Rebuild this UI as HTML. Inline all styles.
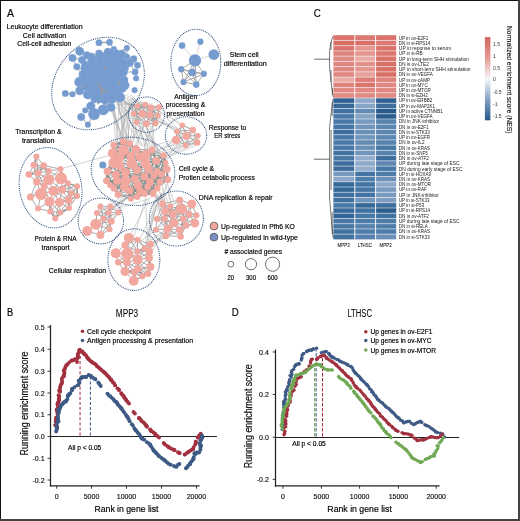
<!DOCTYPE html>
<html><head><meta charset="utf-8"><style>
html,body{margin:0;padding:0;background:#fff;}
body{width:520px;height:521px;overflow:hidden;position:relative;}
svg{position:absolute;left:0;top:0;font-family:"Liberation Sans", sans-serif;-webkit-font-smoothing:antialiased;will-change:transform;}
</style></head><body>
<svg width="520" height="521" viewBox="0 0 520 521">
<rect x="0" y="0" width="520" height="521" fill="#fff"/>
<text x="7.00" y="16.60" font-size="11" text-anchor="start" fill="#000" stroke="#000" stroke-width="0.15" textLength="7.00" lengthAdjust="spacingAndGlyphs" >A</text>
<text x="44.60" y="29.26" font-size="7.6" text-anchor="middle" fill="#000" stroke="#000" stroke-width="0.18" textLength="76.00" lengthAdjust="spacingAndGlyphs" >Leukocyte differentiation</text>
<text x="44.50" y="37.86" font-size="7.6" text-anchor="middle" fill="#000" stroke="#000" stroke-width="0.18" textLength="43.30" lengthAdjust="spacingAndGlyphs" >Cell activation</text>
<text x="44.30" y="46.26" font-size="7.6" text-anchor="middle" fill="#000" stroke="#000" stroke-width="0.18" textLength="54.00" lengthAdjust="spacingAndGlyphs" >Cell-cell adhesion</text>
<text x="244.20" y="57.06" font-size="7.6" text-anchor="middle" fill="#000" stroke="#000" stroke-width="0.18" textLength="29.00" lengthAdjust="spacingAndGlyphs" >Stem cell</text>
<text x="245.20" y="65.66" font-size="7.6" text-anchor="middle" fill="#000" stroke="#000" stroke-width="0.18" textLength="43.00" lengthAdjust="spacingAndGlyphs" >differentiation</text>
<text x="185.70" y="98.86" font-size="7.6" text-anchor="middle" fill="#000" stroke="#000" stroke-width="0.18" textLength="23.00" lengthAdjust="spacingAndGlyphs" >Antigen</text>
<text x="185.50" y="107.36" font-size="7.6" text-anchor="middle" fill="#000" stroke="#000" stroke-width="0.18" textLength="39.50" lengthAdjust="spacingAndGlyphs" >processing &amp;</text>
<text x="185.50" y="116.06" font-size="7.6" text-anchor="middle" fill="#000" stroke="#000" stroke-width="0.18" textLength="38.00" lengthAdjust="spacingAndGlyphs" >presentation</text>
<text x="227.50" y="129.96" font-size="7.6" text-anchor="middle" fill="#000" stroke="#000" stroke-width="0.18" textLength="37.40" lengthAdjust="spacingAndGlyphs" >Response to</text>
<text x="227.30" y="138.46" font-size="7.6" text-anchor="middle" fill="#000" stroke="#000" stroke-width="0.18" textLength="26.00" lengthAdjust="spacingAndGlyphs" >ER stress</text>
<text x="178.70" y="170.86" font-size="7.6" text-anchor="start" fill="#000" stroke="#000" stroke-width="0.18" textLength="35.40" lengthAdjust="spacingAndGlyphs" >Cell cycle &amp;</text>
<text x="178.80" y="179.66" font-size="7.6" text-anchor="start" fill="#000" stroke="#000" stroke-width="0.18" textLength="76.00" lengthAdjust="spacingAndGlyphs" >Protien cetabolic process</text>
<text x="198.80" y="199.96" font-size="7.6" text-anchor="start" fill="#000" stroke="#000" stroke-width="0.18" textLength="73.80" lengthAdjust="spacingAndGlyphs" >DNA replication &amp; repair</text>
<text x="38.50" y="134.16" font-size="7.6" text-anchor="middle" fill="#000" stroke="#000" stroke-width="0.18" textLength="46.30" lengthAdjust="spacingAndGlyphs" >Transcription &amp;</text>
<text x="38.20" y="143.36" font-size="7.6" text-anchor="middle" fill="#000" stroke="#000" stroke-width="0.18" textLength="32.60" lengthAdjust="spacingAndGlyphs" >translation</text>
<text x="55.60" y="241.16" font-size="7.6" text-anchor="middle" fill="#000" stroke="#000" stroke-width="0.18" textLength="42.00" lengthAdjust="spacingAndGlyphs" >Protein &amp; RNA</text>
<text x="55.60" y="249.86" font-size="7.6" text-anchor="middle" fill="#000" stroke="#000" stroke-width="0.18" textLength="28.20" lengthAdjust="spacingAndGlyphs" >transport</text>
<text x="77.50" y="273.46" font-size="7.6" text-anchor="middle" fill="#000" stroke="#000" stroke-width="0.18" textLength="57.30" lengthAdjust="spacingAndGlyphs" >Cellular respiration</text>
<circle cx="214" cy="226.1" r="3.9" fill="#f2a79f" stroke="#555" stroke-width="0.8"/>
<circle cx="214" cy="237.1" r="3.9" fill="#7a8fc4" stroke="#555" stroke-width="0.8"/>
<text x="221.00" y="228.76" font-size="7.6" text-anchor="start" fill="#000" stroke="#000" stroke-width="0.18" textLength="73.80" lengthAdjust="spacingAndGlyphs" >Up-regulated in Pfh6 KO</text>
<text x="221.00" y="239.76" font-size="7.6" text-anchor="start" fill="#000" stroke="#000" stroke-width="0.18" textLength="77.00" lengthAdjust="spacingAndGlyphs" >Up-regulated in wild-type</text>
<text x="253.20" y="254.16" font-size="7.6" text-anchor="middle" fill="#000" stroke="#000" stroke-width="0.18" textLength="57.60" lengthAdjust="spacingAndGlyphs" ># associated genes</text>
<circle cx="230.8" cy="264.2" r="2.9" fill="none" stroke="#333" stroke-width="0.7"/>
<text x="230.80" y="280.16" font-size="7.6" text-anchor="middle" fill="#000" stroke="#000" stroke-width="0.18" textLength="6.50" lengthAdjust="spacingAndGlyphs" >20</text>
<circle cx="251.0" cy="264.2" r="5.6" fill="none" stroke="#333" stroke-width="0.7"/>
<text x="251.00" y="280.16" font-size="7.6" text-anchor="middle" fill="#000" stroke="#000" stroke-width="0.18" textLength="10.00" lengthAdjust="spacingAndGlyphs" >300</text>
<circle cx="272.6" cy="264.2" r="7.1" fill="none" stroke="#333" stroke-width="0.7"/>
<text x="272.60" y="280.16" font-size="7.6" text-anchor="middle" fill="#000" stroke="#000" stroke-width="0.18" textLength="10.00" lengthAdjust="spacingAndGlyphs" >600</text>
<g id="edges" stroke-linecap="round">
<line x1="124.0" y1="101.0" x2="158.0" y2="113.2" stroke="#a8a8a8" stroke-width="0.5"/>
<line x1="125.2" y1="101.4" x2="138.0" y2="114.3" stroke="#a8a8a8" stroke-width="0.5"/>
<line x1="127.6" y1="104.7" x2="135.5" y2="109.7" stroke="#a8a8a8" stroke-width="0.5"/>
<line x1="116.8" y1="105.0" x2="151.7" y2="103.9" stroke="#a8a8a8" stroke-width="0.5"/>
<line x1="134.6" y1="107.4" x2="150.7" y2="116.5" stroke="#a8a8a8" stroke-width="0.5"/>
<line x1="118.1" y1="92.2" x2="147.3" y2="104.3" stroke="#a8a8a8" stroke-width="0.5"/>
<line x1="118.8" y1="95.9" x2="133.8" y2="113.2" stroke="#a8a8a8" stroke-width="0.5"/>
<line x1="123.8" y1="105.5" x2="147.0" y2="117.1" stroke="#a8a8a8" stroke-width="0.5"/>
<line x1="125.0" y1="102.6" x2="145.3" y2="109.1" stroke="#a8a8a8" stroke-width="0.5"/>
<line x1="135.0" y1="107.9" x2="155.7" y2="118.6" stroke="#a8a8a8" stroke-width="0.5"/>
<line x1="121.3" y1="95.7" x2="140.8" y2="104.5" stroke="#a8a8a8" stroke-width="0.5"/>
<line x1="130.3" y1="98.4" x2="155.9" y2="111.5" stroke="#a8a8a8" stroke-width="0.5"/>
<line x1="134.2" y1="105.6" x2="133.0" y2="107.6" stroke="#a8a8a8" stroke-width="0.5"/>
<line x1="133.2" y1="99.5" x2="159.5" y2="111.7" stroke="#a8a8a8" stroke-width="0.5"/>
<line x1="116.5" y1="102.1" x2="154.0" y2="108.9" stroke="#a8a8a8" stroke-width="0.5"/>
<line x1="116.7" y1="97.3" x2="159.0" y2="119.7" stroke="#a8a8a8" stroke-width="0.5"/>
<line x1="117.4" y1="95.9" x2="135.7" y2="104.3" stroke="#a8a8a8" stroke-width="0.5"/>
<line x1="130.9" y1="94.8" x2="148.1" y2="112.8" stroke="#a8a8a8" stroke-width="0.5"/>
<line x1="118.8" y1="103.7" x2="136.5" y2="117.2" stroke="#a8a8a8" stroke-width="0.5"/>
<line x1="117.3" y1="98.7" x2="138.7" y2="108.9" stroke="#a8a8a8" stroke-width="0.5"/>
<line x1="134.3" y1="107.1" x2="128.7" y2="157.7" stroke="#a8a8a8" stroke-width="0.5"/>
<line x1="115.3" y1="100.9" x2="153.4" y2="152.8" stroke="#a8a8a8" stroke-width="0.5"/>
<line x1="112.5" y1="109.8" x2="124.6" y2="145.2" stroke="#a8a8a8" stroke-width="0.5"/>
<line x1="129.3" y1="99.9" x2="128.3" y2="141.5" stroke="#a8a8a8" stroke-width="0.5"/>
<line x1="112.3" y1="103.7" x2="125.9" y2="152.0" stroke="#a8a8a8" stroke-width="0.5"/>
<line x1="119.3" y1="101.8" x2="158.2" y2="149.7" stroke="#a8a8a8" stroke-width="0.5"/>
<line x1="124.4" y1="108.0" x2="123.2" y2="143.1" stroke="#a8a8a8" stroke-width="0.5"/>
<line x1="132.7" y1="107.3" x2="126.2" y2="143.8" stroke="#a8a8a8" stroke-width="0.5"/>
<line x1="128.5" y1="109.1" x2="123.8" y2="159.0" stroke="#a8a8a8" stroke-width="0.5"/>
<line x1="132.1" y1="104.1" x2="134.0" y2="142.1" stroke="#a8a8a8" stroke-width="0.5"/>
<line x1="111.0" y1="109.4" x2="125.7" y2="154.1" stroke="#a8a8a8" stroke-width="0.5"/>
<line x1="116.4" y1="107.4" x2="141.8" y2="145.9" stroke="#a8a8a8" stroke-width="0.5"/>
<line x1="114.4" y1="105.8" x2="118.1" y2="144.6" stroke="#a8a8a8" stroke-width="0.5"/>
<line x1="124.0" y1="107.8" x2="142.6" y2="145.6" stroke="#a8a8a8" stroke-width="0.5"/>
<line x1="132.9" y1="98.1" x2="115.7" y2="145.4" stroke="#a8a8a8" stroke-width="0.5"/>
<line x1="121.1" y1="95.9" x2="122.9" y2="147.4" stroke="#a8a8a8" stroke-width="0.5"/>
<line x1="124.3" y1="97.0" x2="131.3" y2="157.8" stroke="#a8a8a8" stroke-width="0.5"/>
<line x1="134.5" y1="104.9" x2="146.1" y2="151.7" stroke="#a8a8a8" stroke-width="0.5"/>
<line x1="113.5" y1="95.5" x2="115.8" y2="158.2" stroke="#a8a8a8" stroke-width="0.5"/>
<line x1="127.5" y1="109.4" x2="116.0" y2="152.7" stroke="#a8a8a8" stroke-width="0.5"/>
<line x1="146.0" y1="121.0" x2="130.9" y2="160.0" stroke="#a8a8a8" stroke-width="0.5"/>
<line x1="135.0" y1="118.2" x2="151.9" y2="158.0" stroke="#a8a8a8" stroke-width="0.5"/>
<line x1="152.9" y1="120.6" x2="154.7" y2="158.3" stroke="#a8a8a8" stroke-width="0.5"/>
<line x1="142.5" y1="120.3" x2="160.0" y2="157.4" stroke="#a8a8a8" stroke-width="0.5"/>
<line x1="144.3" y1="121.9" x2="158.2" y2="151.5" stroke="#a8a8a8" stroke-width="0.5"/>
<line x1="149.9" y1="115.7" x2="144.1" y2="152.2" stroke="#a8a8a8" stroke-width="0.5"/>
<line x1="135.2" y1="119.6" x2="164.7" y2="157.6" stroke="#a8a8a8" stroke-width="0.5"/>
<line x1="152.7" y1="115.8" x2="151.8" y2="151.6" stroke="#a8a8a8" stroke-width="0.5"/>
<line x1="144.9" y1="122.6" x2="119.2" y2="155.0" stroke="#a8a8a8" stroke-width="0.5"/>
<line x1="133.8" y1="119.0" x2="139.0" y2="144.6" stroke="#a8a8a8" stroke-width="0.5"/>
<line x1="151.9" y1="117.5" x2="145.7" y2="158.4" stroke="#a8a8a8" stroke-width="0.5"/>
<line x1="139.9" y1="110.2" x2="130.1" y2="153.6" stroke="#a8a8a8" stroke-width="0.5"/>
<line x1="138.5" y1="112.5" x2="160.3" y2="153.2" stroke="#a8a8a8" stroke-width="0.5"/>
<line x1="144.9" y1="123.4" x2="131.3" y2="153.3" stroke="#a8a8a8" stroke-width="0.5"/>
<line x1="138.4" y1="116.5" x2="155.3" y2="158.3" stroke="#a8a8a8" stroke-width="0.5"/>
<line x1="156.8" y1="115.8" x2="144.2" y2="146.3" stroke="#a8a8a8" stroke-width="0.5"/>
<line x1="142.7" y1="112.4" x2="194.4" y2="139.9" stroke="#a8a8a8" stroke-width="0.5"/>
<line x1="154.2" y1="119.3" x2="182.1" y2="130.4" stroke="#a8a8a8" stroke-width="0.5"/>
<line x1="149.0" y1="109.1" x2="180.7" y2="133.8" stroke="#a8a8a8" stroke-width="0.5"/>
<line x1="152.5" y1="112.4" x2="182.9" y2="139.7" stroke="#a8a8a8" stroke-width="0.5"/>
<line x1="159.6" y1="111.8" x2="177.6" y2="128.4" stroke="#a8a8a8" stroke-width="0.5"/>
<line x1="157.5" y1="105.6" x2="191.6" y2="136.0" stroke="#a8a8a8" stroke-width="0.5"/>
<line x1="146.2" y1="116.9" x2="176.4" y2="129.9" stroke="#a8a8a8" stroke-width="0.5"/>
<line x1="149.1" y1="105.4" x2="194.3" y2="131.3" stroke="#a8a8a8" stroke-width="0.5"/>
<line x1="152.8" y1="145.9" x2="189.5" y2="135.6" stroke="#a8a8a8" stroke-width="0.5"/>
<line x1="162.6" y1="158.1" x2="193.6" y2="144.3" stroke="#a8a8a8" stroke-width="0.5"/>
<line x1="163.7" y1="149.0" x2="185.9" y2="131.0" stroke="#a8a8a8" stroke-width="0.5"/>
<line x1="150.2" y1="154.4" x2="191.4" y2="131.0" stroke="#a8a8a8" stroke-width="0.5"/>
<line x1="155.4" y1="151.9" x2="191.0" y2="136.8" stroke="#a8a8a8" stroke-width="0.5"/>
<line x1="162.3" y1="160.1" x2="184.1" y2="141.5" stroke="#a8a8a8" stroke-width="0.5"/>
<line x1="168.1" y1="146.7" x2="196.4" y2="140.3" stroke="#a8a8a8" stroke-width="0.5"/>
<line x1="152.6" y1="154.1" x2="189.4" y2="143.5" stroke="#a8a8a8" stroke-width="0.5"/>
<line x1="157.5" y1="156.4" x2="195.2" y2="141.5" stroke="#a8a8a8" stroke-width="0.5"/>
<line x1="168.9" y1="154.3" x2="190.0" y2="131.5" stroke="#a8a8a8" stroke-width="0.5"/>
<line x1="164.4" y1="161.4" x2="189.8" y2="140.2" stroke="#a8a8a8" stroke-width="0.5"/>
<line x1="154.3" y1="163.0" x2="197.6" y2="144.6" stroke="#a8a8a8" stroke-width="0.5"/>
<line x1="160.7" y1="194.8" x2="162.1" y2="222.7" stroke="#a8a8a8" stroke-width="0.5"/>
<line x1="167.1" y1="183.7" x2="157.6" y2="211.0" stroke="#a8a8a8" stroke-width="0.5"/>
<line x1="161.0" y1="194.2" x2="165.3" y2="200.7" stroke="#a8a8a8" stroke-width="0.5"/>
<line x1="166.2" y1="176.6" x2="171.2" y2="204.3" stroke="#a8a8a8" stroke-width="0.5"/>
<line x1="156.7" y1="194.7" x2="158.7" y2="203.7" stroke="#a8a8a8" stroke-width="0.5"/>
<line x1="160.3" y1="193.1" x2="172.0" y2="217.2" stroke="#a8a8a8" stroke-width="0.5"/>
<line x1="168.9" y1="187.3" x2="174.0" y2="202.2" stroke="#a8a8a8" stroke-width="0.5"/>
<line x1="154.4" y1="188.2" x2="161.5" y2="218.2" stroke="#a8a8a8" stroke-width="0.5"/>
<line x1="162.8" y1="188.1" x2="172.0" y2="214.0" stroke="#a8a8a8" stroke-width="0.5"/>
<line x1="156.2" y1="184.5" x2="172.1" y2="222.5" stroke="#a8a8a8" stroke-width="0.5"/>
<line x1="154.2" y1="196.3" x2="174.4" y2="213.1" stroke="#a8a8a8" stroke-width="0.5"/>
<line x1="161.5" y1="180.0" x2="166.2" y2="212.6" stroke="#a8a8a8" stroke-width="0.5"/>
<line x1="162.1" y1="175.7" x2="174.4" y2="212.9" stroke="#a8a8a8" stroke-width="0.5"/>
<line x1="158.0" y1="195.0" x2="166.7" y2="212.3" stroke="#a8a8a8" stroke-width="0.5"/>
<line x1="142.3" y1="186.0" x2="109.7" y2="211.2" stroke="#a8a8a8" stroke-width="0.5"/>
<line x1="148.9" y1="198.9" x2="104.8" y2="212.1" stroke="#a8a8a8" stroke-width="0.5"/>
<line x1="128.2" y1="191.5" x2="114.7" y2="218.5" stroke="#a8a8a8" stroke-width="0.5"/>
<line x1="136.9" y1="189.8" x2="103.4" y2="214.3" stroke="#a8a8a8" stroke-width="0.5"/>
<line x1="148.1" y1="186.9" x2="114.0" y2="205.3" stroke="#a8a8a8" stroke-width="0.5"/>
<line x1="129.9" y1="188.4" x2="112.4" y2="209.8" stroke="#a8a8a8" stroke-width="0.5"/>
<line x1="133.9" y1="194.3" x2="101.9" y2="216.0" stroke="#a8a8a8" stroke-width="0.5"/>
<line x1="128.1" y1="192.7" x2="104.5" y2="208.0" stroke="#a8a8a8" stroke-width="0.5"/>
<line x1="138.3" y1="191.6" x2="106.8" y2="211.2" stroke="#a8a8a8" stroke-width="0.5"/>
<line x1="138.2" y1="187.4" x2="103.7" y2="214.5" stroke="#a8a8a8" stroke-width="0.5"/>
<line x1="156.0" y1="195.3" x2="146.7" y2="244.6" stroke="#a8a8a8" stroke-width="0.5"/>
<line x1="161.4" y1="192.3" x2="144.3" y2="247.3" stroke="#a8a8a8" stroke-width="0.5"/>
<line x1="162.6" y1="193.2" x2="134.9" y2="248.9" stroke="#a8a8a8" stroke-width="0.5"/>
<line x1="145.5" y1="200.0" x2="147.5" y2="237.9" stroke="#a8a8a8" stroke-width="0.5"/>
<line x1="146.0" y1="197.3" x2="133.7" y2="237.4" stroke="#a8a8a8" stroke-width="0.5"/>
<line x1="160.8" y1="194.2" x2="145.4" y2="237.8" stroke="#a8a8a8" stroke-width="0.5"/>
<line x1="150.1" y1="196.9" x2="128.4" y2="238.8" stroke="#a8a8a8" stroke-width="0.5"/>
<line x1="157.1" y1="199.1" x2="149.3" y2="237.6" stroke="#a8a8a8" stroke-width="0.5"/>
<line x1="172.6" y1="231.4" x2="146.0" y2="250.3" stroke="#a8a8a8" stroke-width="0.5"/>
<line x1="167.8" y1="221.1" x2="141.3" y2="240.6" stroke="#a8a8a8" stroke-width="0.5"/>
<line x1="173.3" y1="227.7" x2="146.8" y2="242.2" stroke="#a8a8a8" stroke-width="0.5"/>
<line x1="167.8" y1="223.1" x2="150.1" y2="254.9" stroke="#a8a8a8" stroke-width="0.5"/>
<line x1="178.9" y1="221.4" x2="140.7" y2="254.3" stroke="#a8a8a8" stroke-width="0.5"/>
<line x1="171.9" y1="231.5" x2="143.9" y2="247.0" stroke="#a8a8a8" stroke-width="0.5"/>
<line x1="172.7" y1="226.5" x2="147.2" y2="240.2" stroke="#a8a8a8" stroke-width="0.5"/>
<line x1="175.5" y1="232.7" x2="142.2" y2="246.8" stroke="#a8a8a8" stroke-width="0.5"/>
<line x1="60.5" y1="169" x2="108" y2="155.7" stroke="#b0b0b0" stroke-width="0.6"/>
<line x1="119.8" y1="99.1" x2="116.3" y2="141.7" stroke="#a8a8a8" stroke-width="0.5"/>
<line x1="115.3" y1="95.2" x2="128.2" y2="148.0" stroke="#a8a8a8" stroke-width="0.5"/>
<line x1="119.1" y1="103.6" x2="123.7" y2="144.0" stroke="#a8a8a8" stroke-width="0.5"/>
<line x1="117.0" y1="100.0" x2="129.7" y2="148.0" stroke="#a8a8a8" stroke-width="0.5"/>
<line x1="110.2" y1="104.1" x2="125.7" y2="147.8" stroke="#a8a8a8" stroke-width="0.5"/>
<line x1="121.3" y1="99.1" x2="128.2" y2="148.8" stroke="#a8a8a8" stroke-width="0.5"/>
<line x1="99" y1="42.7" x2="109.5" y2="42.2" stroke="#a09890" stroke-width="1"/>
</g>
<g stroke="#8f8f8f" stroke-width="0.75">
<line x1="137.5" y1="106.0" x2="145.2" y2="104.6"/>
<line x1="137.5" y1="106.0" x2="151.0" y2="107.9"/>
<line x1="137.5" y1="106.0" x2="133.7" y2="113.7"/>
<line x1="137.5" y1="106.0" x2="142.3" y2="113.7"/>
<line x1="137.5" y1="106.0" x2="150.0" y2="115.0"/>
<line x1="137.5" y1="106.0" x2="136.5" y2="122.3"/>
<line x1="145.2" y1="104.6" x2="151.0" y2="107.9"/>
<line x1="145.2" y1="104.6" x2="159.2" y2="107.3"/>
<line x1="145.2" y1="104.6" x2="133.7" y2="113.7"/>
<line x1="145.2" y1="104.6" x2="142.3" y2="113.7"/>
<line x1="145.2" y1="104.6" x2="150.0" y2="115.0"/>
<line x1="145.2" y1="104.6" x2="158.0" y2="115.6"/>
<line x1="151.0" y1="107.9" x2="159.2" y2="107.3"/>
<line x1="151.0" y1="107.9" x2="142.3" y2="113.7"/>
<line x1="151.0" y1="107.9" x2="150.0" y2="115.0"/>
<line x1="151.0" y1="107.9" x2="158.0" y2="115.6"/>
<line x1="151.0" y1="107.9" x2="146.2" y2="123.8"/>
<line x1="151.0" y1="107.9" x2="155.4" y2="123.3"/>
<line x1="159.2" y1="107.3" x2="150.0" y2="115.0"/>
<line x1="159.2" y1="107.3" x2="158.0" y2="115.6"/>
<line x1="159.2" y1="107.3" x2="155.4" y2="123.3"/>
<line x1="133.7" y1="113.7" x2="142.3" y2="113.7"/>
<line x1="133.7" y1="113.7" x2="150.0" y2="115.0"/>
<line x1="133.7" y1="113.7" x2="136.5" y2="122.3"/>
<line x1="133.7" y1="113.7" x2="146.2" y2="123.8"/>
<line x1="142.3" y1="113.7" x2="150.0" y2="115.0"/>
<line x1="142.3" y1="113.7" x2="158.0" y2="115.6"/>
<line x1="142.3" y1="113.7" x2="136.5" y2="122.3"/>
<line x1="142.3" y1="113.7" x2="146.2" y2="123.8"/>
<line x1="142.3" y1="113.7" x2="155.4" y2="123.3"/>
<line x1="150.0" y1="115.0" x2="158.0" y2="115.6"/>
<line x1="150.0" y1="115.0" x2="136.5" y2="122.3"/>
<line x1="150.0" y1="115.0" x2="146.2" y2="123.8"/>
<line x1="150.0" y1="115.0" x2="155.4" y2="123.3"/>
<line x1="158.0" y1="115.6" x2="146.2" y2="123.8"/>
<line x1="158.0" y1="115.6" x2="155.4" y2="123.3"/>
<line x1="136.5" y1="122.3" x2="146.2" y2="123.8"/>
<line x1="146.2" y1="123.8" x2="155.4" y2="123.3"/>
</g>
<g stroke="#8f8f8f" stroke-width="0.75">
<line x1="182.3" y1="125.2" x2="176.9" y2="131.5"/>
<line x1="182.3" y1="125.2" x2="192.7" y2="130.0"/>
<line x1="182.3" y1="125.2" x2="186.5" y2="135.8"/>
<line x1="182.3" y1="125.2" x2="176.0" y2="140.0"/>
<line x1="176.9" y1="131.5" x2="192.7" y2="130.0"/>
<line x1="176.9" y1="131.5" x2="186.5" y2="135.8"/>
<line x1="176.9" y1="131.5" x2="176.0" y2="140.0"/>
<line x1="176.9" y1="131.5" x2="185.6" y2="145.4"/>
<line x1="192.7" y1="130.0" x2="186.5" y2="135.8"/>
<line x1="192.7" y1="130.0" x2="185.6" y2="145.4"/>
<line x1="192.7" y1="130.0" x2="197.0" y2="142.5"/>
<line x1="192.7" y1="130.0" x2="198.0" y2="135.8"/>
<line x1="186.5" y1="135.8" x2="176.0" y2="140.0"/>
<line x1="186.5" y1="135.8" x2="185.6" y2="145.4"/>
<line x1="186.5" y1="135.8" x2="197.0" y2="142.5"/>
<line x1="186.5" y1="135.8" x2="198.0" y2="135.8"/>
<line x1="176.0" y1="140.0" x2="185.6" y2="145.4"/>
<line x1="185.6" y1="145.4" x2="197.0" y2="142.5"/>
<line x1="185.6" y1="145.4" x2="198.0" y2="135.8"/>
<line x1="197.0" y1="142.5" x2="198.0" y2="135.8"/>
</g>
<g stroke="#8d9797" stroke-width="2.2" stroke-linecap="round">
<line x1="113.8" y1="145.2" x2="123.4" y2="141.6"/>
<line x1="113.8" y1="145.2" x2="112.8" y2="153.3"/>
<line x1="113.8" y1="145.2" x2="123.4" y2="150.1"/>
<line x1="123.4" y1="141.6" x2="129.7" y2="143.8"/>
<line x1="123.4" y1="141.6" x2="123.4" y2="150.1"/>
<line x1="129.7" y1="143.8" x2="123.4" y2="150.1"/>
<line x1="129.7" y1="143.8" x2="136.0" y2="149.5"/>
<line x1="112.8" y1="153.3" x2="123.4" y2="150.1"/>
<line x1="112.8" y1="153.3" x2="113.8" y2="162.8"/>
<line x1="112.8" y1="153.3" x2="120.0" y2="158.0"/>
<line x1="123.4" y1="150.1" x2="130.8" y2="156.4"/>
<line x1="123.4" y1="150.1" x2="120.0" y2="158.0"/>
<line x1="136.0" y1="149.5" x2="145.6" y2="155.0"/>
<line x1="136.0" y1="149.5" x2="130.8" y2="156.4"/>
<line x1="136.0" y1="149.5" x2="140.0" y2="157.0"/>
<line x1="145.6" y1="155.0" x2="145.6" y2="163.8"/>
<line x1="145.6" y1="155.0" x2="140.0" y2="157.0"/>
<line x1="145.6" y1="155.0" x2="152.0" y2="150.0"/>
<line x1="163.6" y1="155.4" x2="156.2" y2="160.7"/>
<line x1="163.6" y1="155.4" x2="165.7" y2="162.8"/>
<line x1="130.8" y1="156.4" x2="131.8" y2="163.8"/>
<line x1="130.8" y1="156.4" x2="120.0" y2="158.0"/>
<line x1="130.8" y1="156.4" x2="140.0" y2="157.0"/>
<line x1="113.8" y1="162.8" x2="107.5" y2="171.3"/>
<line x1="113.8" y1="162.8" x2="120.0" y2="158.0"/>
<line x1="113.8" y1="162.8" x2="120.0" y2="166.0"/>
<line x1="131.8" y1="163.8" x2="125.5" y2="172.3"/>
<line x1="131.8" y1="163.8" x2="137.1" y2="170.2"/>
<line x1="131.8" y1="163.8" x2="140.0" y2="157.0"/>
<line x1="145.6" y1="163.8" x2="156.2" y2="160.7"/>
<line x1="145.6" y1="163.8" x2="137.1" y2="170.2"/>
<line x1="145.6" y1="163.8" x2="148.8" y2="169.1"/>
<line x1="145.6" y1="163.8" x2="140.0" y2="157.0"/>
<line x1="156.2" y1="160.7" x2="165.7" y2="162.8"/>
<line x1="156.2" y1="160.7" x2="148.8" y2="169.1"/>
<line x1="156.2" y1="160.7" x2="157.2" y2="171.3"/>
<line x1="156.2" y1="160.7" x2="152.0" y2="150.0"/>
<line x1="165.7" y1="162.8" x2="166.7" y2="169.1"/>
<line x1="107.5" y1="171.3" x2="116.0" y2="174.4"/>
<line x1="107.5" y1="171.3" x2="106.4" y2="180.8"/>
<line x1="116.0" y1="174.4" x2="125.5" y2="172.3"/>
<line x1="116.0" y1="174.4" x2="117.0" y2="180.8"/>
<line x1="116.0" y1="174.4" x2="125.5" y2="180.8"/>
<line x1="116.0" y1="174.4" x2="120.0" y2="166.0"/>
<line x1="125.5" y1="172.3" x2="125.5" y2="180.8"/>
<line x1="125.5" y1="172.3" x2="135.0" y2="178.7"/>
<line x1="125.5" y1="172.3" x2="120.0" y2="166.0"/>
<line x1="137.1" y1="170.2" x2="135.0" y2="178.7"/>
<line x1="137.1" y1="170.2" x2="144.5" y2="176.5"/>
<line x1="148.8" y1="169.1" x2="157.2" y2="171.3"/>
<line x1="148.8" y1="169.1" x2="144.5" y2="176.5"/>
<line x1="148.8" y1="169.1" x2="154.0" y2="175.5"/>
<line x1="157.2" y1="171.3" x2="166.7" y2="169.1"/>
<line x1="157.2" y1="171.3" x2="154.0" y2="175.5"/>
<line x1="157.2" y1="171.3" x2="161.4" y2="174.4"/>
<line x1="157.2" y1="171.3" x2="160.0" y2="182.0"/>
<line x1="166.7" y1="169.1" x2="161.4" y2="174.4"/>
<line x1="166.7" y1="169.1" x2="167.8" y2="179.7"/>
<line x1="106.4" y1="180.8" x2="117.0" y2="180.8"/>
<line x1="106.4" y1="180.8" x2="113.8" y2="188.2"/>
<line x1="106.4" y1="180.8" x2="110.0" y2="185.0"/>
<line x1="117.0" y1="180.8" x2="125.5" y2="180.8"/>
<line x1="117.0" y1="180.8" x2="113.8" y2="188.2"/>
<line x1="117.0" y1="180.8" x2="124.4" y2="187.1"/>
<line x1="117.0" y1="180.8" x2="110.0" y2="185.0"/>
<line x1="125.5" y1="180.8" x2="135.0" y2="178.7"/>
<line x1="125.5" y1="180.8" x2="124.4" y2="187.1"/>
<line x1="125.5" y1="180.8" x2="129.7" y2="190.3"/>
<line x1="135.0" y1="178.7" x2="144.5" y2="176.5"/>
<line x1="135.0" y1="178.7" x2="138.0" y2="185.0"/>
<line x1="144.5" y1="176.5" x2="154.0" y2="175.5"/>
<line x1="144.5" y1="176.5" x2="147.7" y2="187.1"/>
<line x1="144.5" y1="176.5" x2="138.0" y2="185.0"/>
<line x1="144.5" y1="176.5" x2="150.0" y2="182.0"/>
<line x1="154.0" y1="175.5" x2="161.4" y2="174.4"/>
<line x1="154.0" y1="175.5" x2="160.0" y2="182.0"/>
<line x1="154.0" y1="175.5" x2="150.0" y2="182.0"/>
<line x1="161.4" y1="174.4" x2="167.8" y2="179.7"/>
<line x1="161.4" y1="174.4" x2="160.0" y2="182.0"/>
<line x1="167.8" y1="179.7" x2="160.0" y2="182.0"/>
<line x1="113.8" y1="188.2" x2="124.4" y2="187.1"/>
<line x1="113.8" y1="188.2" x2="118.1" y2="194.5"/>
<line x1="113.8" y1="188.2" x2="110.0" y2="185.0"/>
<line x1="124.4" y1="187.1" x2="129.7" y2="190.3"/>
<line x1="124.4" y1="187.1" x2="118.1" y2="194.5"/>
<line x1="129.7" y1="190.3" x2="140.3" y2="191.3"/>
<line x1="129.7" y1="190.3" x2="130.8" y2="198.8"/>
<line x1="129.7" y1="190.3" x2="137.1" y2="196.6"/>
<line x1="129.7" y1="190.3" x2="138.0" y2="185.0"/>
<line x1="140.3" y1="191.3" x2="147.7" y2="187.1"/>
<line x1="140.3" y1="191.3" x2="137.1" y2="196.6"/>
<line x1="140.3" y1="191.3" x2="144.5" y2="193.5"/>
<line x1="140.3" y1="191.3" x2="138.0" y2="185.0"/>
<line x1="147.7" y1="187.1" x2="157.2" y2="188.2"/>
<line x1="147.7" y1="187.1" x2="144.5" y2="193.5"/>
<line x1="147.7" y1="187.1" x2="153.0" y2="193.5"/>
<line x1="147.7" y1="187.1" x2="138.0" y2="185.0"/>
<line x1="147.7" y1="187.1" x2="150.0" y2="182.0"/>
<line x1="157.2" y1="188.2" x2="153.0" y2="193.5"/>
<line x1="157.2" y1="188.2" x2="160.0" y2="182.0"/>
<line x1="157.2" y1="188.2" x2="150.0" y2="182.0"/>
<line x1="130.8" y1="198.8" x2="137.1" y2="196.6"/>
<line x1="137.1" y1="196.6" x2="144.5" y2="193.5"/>
<line x1="144.5" y1="193.5" x2="153.0" y2="193.5"/>
<line x1="144.5" y1="193.5" x2="138.0" y2="185.0"/>
<line x1="120.0" y1="158.0" x2="120.0" y2="166.0"/>
<line x1="160.0" y1="182.0" x2="150.0" y2="182.0"/>
</g>
<g stroke="#8a9393" stroke-width="0.9">
<line x1="113.8" y1="145.2" x2="123.4" y2="141.6"/>
<line x1="113.8" y1="145.2" x2="129.7" y2="143.8"/>
<line x1="113.8" y1="145.2" x2="112.8" y2="153.3"/>
<line x1="113.8" y1="145.2" x2="123.4" y2="150.1"/>
<line x1="113.8" y1="145.2" x2="113.8" y2="162.8"/>
<line x1="113.8" y1="145.2" x2="120.0" y2="158.0"/>
<line x1="123.4" y1="141.6" x2="129.7" y2="143.8"/>
<line x1="123.4" y1="141.6" x2="112.8" y2="153.3"/>
<line x1="123.4" y1="141.6" x2="123.4" y2="150.1"/>
<line x1="123.4" y1="141.6" x2="136.0" y2="149.5"/>
<line x1="123.4" y1="141.6" x2="130.8" y2="156.4"/>
<line x1="123.4" y1="141.6" x2="120.0" y2="158.0"/>
<line x1="129.7" y1="143.8" x2="112.8" y2="153.3"/>
<line x1="129.7" y1="143.8" x2="123.4" y2="150.1"/>
<line x1="129.7" y1="143.8" x2="136.0" y2="149.5"/>
<line x1="129.7" y1="143.8" x2="145.6" y2="155.0"/>
<line x1="129.7" y1="143.8" x2="130.8" y2="156.4"/>
<line x1="129.7" y1="143.8" x2="120.0" y2="158.0"/>
<line x1="129.7" y1="143.8" x2="140.0" y2="157.0"/>
<line x1="112.8" y1="153.3" x2="123.4" y2="150.1"/>
<line x1="112.8" y1="153.3" x2="130.8" y2="156.4"/>
<line x1="112.8" y1="153.3" x2="113.8" y2="162.8"/>
<line x1="112.8" y1="153.3" x2="107.5" y2="171.3"/>
<line x1="112.8" y1="153.3" x2="120.0" y2="158.0"/>
<line x1="112.8" y1="153.3" x2="120.0" y2="166.0"/>
<line x1="123.4" y1="150.1" x2="136.0" y2="149.5"/>
<line x1="123.4" y1="150.1" x2="130.8" y2="156.4"/>
<line x1="123.4" y1="150.1" x2="113.8" y2="162.8"/>
<line x1="123.4" y1="150.1" x2="131.8" y2="163.8"/>
<line x1="123.4" y1="150.1" x2="120.0" y2="158.0"/>
<line x1="123.4" y1="150.1" x2="140.0" y2="157.0"/>
<line x1="123.4" y1="150.1" x2="120.0" y2="166.0"/>
<line x1="136.0" y1="149.5" x2="145.6" y2="155.0"/>
<line x1="136.0" y1="149.5" x2="130.8" y2="156.4"/>
<line x1="136.0" y1="149.5" x2="131.8" y2="163.8"/>
<line x1="136.0" y1="149.5" x2="145.6" y2="163.8"/>
<line x1="136.0" y1="149.5" x2="120.0" y2="158.0"/>
<line x1="136.0" y1="149.5" x2="140.0" y2="157.0"/>
<line x1="136.0" y1="149.5" x2="152.0" y2="150.0"/>
<line x1="145.6" y1="155.0" x2="163.6" y2="155.4"/>
<line x1="145.6" y1="155.0" x2="130.8" y2="156.4"/>
<line x1="145.6" y1="155.0" x2="131.8" y2="163.8"/>
<line x1="145.6" y1="155.0" x2="145.6" y2="163.8"/>
<line x1="145.6" y1="155.0" x2="156.2" y2="160.7"/>
<line x1="145.6" y1="155.0" x2="137.1" y2="170.2"/>
<line x1="145.6" y1="155.0" x2="148.8" y2="169.1"/>
<line x1="145.6" y1="155.0" x2="140.0" y2="157.0"/>
<line x1="145.6" y1="155.0" x2="152.0" y2="150.0"/>
<line x1="163.6" y1="155.4" x2="145.6" y2="163.8"/>
<line x1="163.6" y1="155.4" x2="156.2" y2="160.7"/>
<line x1="163.6" y1="155.4" x2="165.7" y2="162.8"/>
<line x1="163.6" y1="155.4" x2="157.2" y2="171.3"/>
<line x1="163.6" y1="155.4" x2="166.7" y2="169.1"/>
<line x1="163.6" y1="155.4" x2="161.4" y2="174.4"/>
<line x1="163.6" y1="155.4" x2="152.0" y2="150.0"/>
<line x1="130.8" y1="156.4" x2="113.8" y2="162.8"/>
<line x1="130.8" y1="156.4" x2="131.8" y2="163.8"/>
<line x1="130.8" y1="156.4" x2="145.6" y2="163.8"/>
<line x1="130.8" y1="156.4" x2="125.5" y2="172.3"/>
<line x1="130.8" y1="156.4" x2="137.1" y2="170.2"/>
<line x1="130.8" y1="156.4" x2="120.0" y2="158.0"/>
<line x1="130.8" y1="156.4" x2="140.0" y2="157.0"/>
<line x1="130.8" y1="156.4" x2="120.0" y2="166.0"/>
<line x1="113.8" y1="162.8" x2="131.8" y2="163.8"/>
<line x1="113.8" y1="162.8" x2="107.5" y2="171.3"/>
<line x1="113.8" y1="162.8" x2="116.0" y2="174.4"/>
<line x1="113.8" y1="162.8" x2="125.5" y2="172.3"/>
<line x1="113.8" y1="162.8" x2="106.4" y2="180.8"/>
<line x1="113.8" y1="162.8" x2="117.0" y2="180.8"/>
<line x1="113.8" y1="162.8" x2="120.0" y2="158.0"/>
<line x1="113.8" y1="162.8" x2="120.0" y2="166.0"/>
<line x1="131.8" y1="163.8" x2="145.6" y2="163.8"/>
<line x1="131.8" y1="163.8" x2="116.0" y2="174.4"/>
<line x1="131.8" y1="163.8" x2="125.5" y2="172.3"/>
<line x1="131.8" y1="163.8" x2="137.1" y2="170.2"/>
<line x1="131.8" y1="163.8" x2="148.8" y2="169.1"/>
<line x1="131.8" y1="163.8" x2="125.5" y2="180.8"/>
<line x1="131.8" y1="163.8" x2="135.0" y2="178.7"/>
<line x1="131.8" y1="163.8" x2="144.5" y2="176.5"/>
<line x1="131.8" y1="163.8" x2="120.0" y2="158.0"/>
<line x1="131.8" y1="163.8" x2="140.0" y2="157.0"/>
<line x1="131.8" y1="163.8" x2="120.0" y2="166.0"/>
<line x1="145.6" y1="163.8" x2="156.2" y2="160.7"/>
<line x1="145.6" y1="163.8" x2="137.1" y2="170.2"/>
<line x1="145.6" y1="163.8" x2="148.8" y2="169.1"/>
<line x1="145.6" y1="163.8" x2="157.2" y2="171.3"/>
<line x1="145.6" y1="163.8" x2="135.0" y2="178.7"/>
<line x1="145.6" y1="163.8" x2="144.5" y2="176.5"/>
<line x1="145.6" y1="163.8" x2="154.0" y2="175.5"/>
<line x1="145.6" y1="163.8" x2="161.4" y2="174.4"/>
<line x1="145.6" y1="163.8" x2="140.0" y2="157.0"/>
<line x1="145.6" y1="163.8" x2="152.0" y2="150.0"/>
<line x1="145.6" y1="163.8" x2="150.0" y2="182.0"/>
<line x1="156.2" y1="160.7" x2="165.7" y2="162.8"/>
<line x1="156.2" y1="160.7" x2="148.8" y2="169.1"/>
<line x1="156.2" y1="160.7" x2="157.2" y2="171.3"/>
<line x1="156.2" y1="160.7" x2="166.7" y2="169.1"/>
<line x1="156.2" y1="160.7" x2="144.5" y2="176.5"/>
<line x1="156.2" y1="160.7" x2="154.0" y2="175.5"/>
<line x1="156.2" y1="160.7" x2="161.4" y2="174.4"/>
<line x1="156.2" y1="160.7" x2="140.0" y2="157.0"/>
<line x1="156.2" y1="160.7" x2="152.0" y2="150.0"/>
<line x1="165.7" y1="162.8" x2="148.8" y2="169.1"/>
<line x1="165.7" y1="162.8" x2="157.2" y2="171.3"/>
<line x1="165.7" y1="162.8" x2="166.7" y2="169.1"/>
<line x1="165.7" y1="162.8" x2="154.0" y2="175.5"/>
<line x1="165.7" y1="162.8" x2="161.4" y2="174.4"/>
<line x1="165.7" y1="162.8" x2="167.8" y2="179.7"/>
<line x1="165.7" y1="162.8" x2="152.0" y2="150.0"/>
<line x1="107.5" y1="171.3" x2="116.0" y2="174.4"/>
<line x1="107.5" y1="171.3" x2="125.5" y2="172.3"/>
<line x1="107.5" y1="171.3" x2="106.4" y2="180.8"/>
<line x1="107.5" y1="171.3" x2="117.0" y2="180.8"/>
<line x1="107.5" y1="171.3" x2="113.8" y2="188.2"/>
<line x1="107.5" y1="171.3" x2="120.0" y2="158.0"/>
<line x1="107.5" y1="171.3" x2="120.0" y2="166.0"/>
<line x1="107.5" y1="171.3" x2="110.0" y2="185.0"/>
<line x1="116.0" y1="174.4" x2="125.5" y2="172.3"/>
<line x1="116.0" y1="174.4" x2="106.4" y2="180.8"/>
<line x1="116.0" y1="174.4" x2="117.0" y2="180.8"/>
<line x1="116.0" y1="174.4" x2="125.5" y2="180.8"/>
<line x1="116.0" y1="174.4" x2="135.0" y2="178.7"/>
<line x1="116.0" y1="174.4" x2="113.8" y2="188.2"/>
<line x1="116.0" y1="174.4" x2="124.4" y2="187.1"/>
<line x1="116.0" y1="174.4" x2="120.0" y2="158.0"/>
<line x1="116.0" y1="174.4" x2="120.0" y2="166.0"/>
<line x1="116.0" y1="174.4" x2="110.0" y2="185.0"/>
<line x1="125.5" y1="172.3" x2="137.1" y2="170.2"/>
<line x1="125.5" y1="172.3" x2="117.0" y2="180.8"/>
<line x1="125.5" y1="172.3" x2="125.5" y2="180.8"/>
<line x1="125.5" y1="172.3" x2="135.0" y2="178.7"/>
<line x1="125.5" y1="172.3" x2="144.5" y2="176.5"/>
<line x1="125.5" y1="172.3" x2="113.8" y2="188.2"/>
<line x1="125.5" y1="172.3" x2="124.4" y2="187.1"/>
<line x1="125.5" y1="172.3" x2="129.7" y2="190.3"/>
<line x1="125.5" y1="172.3" x2="120.0" y2="158.0"/>
<line x1="125.5" y1="172.3" x2="120.0" y2="166.0"/>
<line x1="125.5" y1="172.3" x2="138.0" y2="185.0"/>
<line x1="137.1" y1="170.2" x2="148.8" y2="169.1"/>
<line x1="137.1" y1="170.2" x2="125.5" y2="180.8"/>
<line x1="137.1" y1="170.2" x2="135.0" y2="178.7"/>
<line x1="137.1" y1="170.2" x2="144.5" y2="176.5"/>
<line x1="137.1" y1="170.2" x2="154.0" y2="175.5"/>
<line x1="137.1" y1="170.2" x2="147.7" y2="187.1"/>
<line x1="137.1" y1="170.2" x2="140.0" y2="157.0"/>
<line x1="137.1" y1="170.2" x2="120.0" y2="166.0"/>
<line x1="137.1" y1="170.2" x2="138.0" y2="185.0"/>
<line x1="137.1" y1="170.2" x2="150.0" y2="182.0"/>
<line x1="148.8" y1="169.1" x2="157.2" y2="171.3"/>
<line x1="148.8" y1="169.1" x2="166.7" y2="169.1"/>
<line x1="148.8" y1="169.1" x2="135.0" y2="178.7"/>
<line x1="148.8" y1="169.1" x2="144.5" y2="176.5"/>
<line x1="148.8" y1="169.1" x2="154.0" y2="175.5"/>
<line x1="148.8" y1="169.1" x2="161.4" y2="174.4"/>
<line x1="148.8" y1="169.1" x2="147.7" y2="187.1"/>
<line x1="148.8" y1="169.1" x2="140.0" y2="157.0"/>
<line x1="148.8" y1="169.1" x2="152.0" y2="150.0"/>
<line x1="148.8" y1="169.1" x2="160.0" y2="182.0"/>
<line x1="148.8" y1="169.1" x2="138.0" y2="185.0"/>
<line x1="148.8" y1="169.1" x2="150.0" y2="182.0"/>
<line x1="157.2" y1="171.3" x2="166.7" y2="169.1"/>
<line x1="157.2" y1="171.3" x2="144.5" y2="176.5"/>
<line x1="157.2" y1="171.3" x2="154.0" y2="175.5"/>
<line x1="157.2" y1="171.3" x2="161.4" y2="174.4"/>
<line x1="157.2" y1="171.3" x2="167.8" y2="179.7"/>
<line x1="157.2" y1="171.3" x2="147.7" y2="187.1"/>
<line x1="157.2" y1="171.3" x2="157.2" y2="188.2"/>
<line x1="157.2" y1="171.3" x2="160.0" y2="182.0"/>
<line x1="157.2" y1="171.3" x2="150.0" y2="182.0"/>
<line x1="166.7" y1="169.1" x2="154.0" y2="175.5"/>
<line x1="166.7" y1="169.1" x2="161.4" y2="174.4"/>
<line x1="166.7" y1="169.1" x2="167.8" y2="179.7"/>
<line x1="166.7" y1="169.1" x2="160.0" y2="182.0"/>
<line x1="106.4" y1="180.8" x2="117.0" y2="180.8"/>
<line x1="106.4" y1="180.8" x2="125.5" y2="180.8"/>
<line x1="106.4" y1="180.8" x2="113.8" y2="188.2"/>
<line x1="106.4" y1="180.8" x2="124.4" y2="187.1"/>
<line x1="106.4" y1="180.8" x2="118.1" y2="194.5"/>
<line x1="106.4" y1="180.8" x2="110.0" y2="185.0"/>
<line x1="117.0" y1="180.8" x2="125.5" y2="180.8"/>
<line x1="117.0" y1="180.8" x2="135.0" y2="178.7"/>
<line x1="117.0" y1="180.8" x2="113.8" y2="188.2"/>
<line x1="117.0" y1="180.8" x2="124.4" y2="187.1"/>
<line x1="117.0" y1="180.8" x2="129.7" y2="190.3"/>
<line x1="117.0" y1="180.8" x2="118.1" y2="194.5"/>
<line x1="117.0" y1="180.8" x2="120.0" y2="166.0"/>
<line x1="117.0" y1="180.8" x2="110.0" y2="185.0"/>
<line x1="125.5" y1="180.8" x2="135.0" y2="178.7"/>
<line x1="125.5" y1="180.8" x2="144.5" y2="176.5"/>
<line x1="125.5" y1="180.8" x2="113.8" y2="188.2"/>
<line x1="125.5" y1="180.8" x2="124.4" y2="187.1"/>
<line x1="125.5" y1="180.8" x2="129.7" y2="190.3"/>
<line x1="125.5" y1="180.8" x2="140.3" y2="191.3"/>
<line x1="125.5" y1="180.8" x2="118.1" y2="194.5"/>
<line x1="125.5" y1="180.8" x2="130.8" y2="198.8"/>
<line x1="125.5" y1="180.8" x2="137.1" y2="196.6"/>
<line x1="125.5" y1="180.8" x2="120.0" y2="166.0"/>
<line x1="125.5" y1="180.8" x2="110.0" y2="185.0"/>
<line x1="125.5" y1="180.8" x2="138.0" y2="185.0"/>
<line x1="135.0" y1="178.7" x2="144.5" y2="176.5"/>
<line x1="135.0" y1="178.7" x2="154.0" y2="175.5"/>
<line x1="135.0" y1="178.7" x2="124.4" y2="187.1"/>
<line x1="135.0" y1="178.7" x2="129.7" y2="190.3"/>
<line x1="135.0" y1="178.7" x2="140.3" y2="191.3"/>
<line x1="135.0" y1="178.7" x2="147.7" y2="187.1"/>
<line x1="135.0" y1="178.7" x2="137.1" y2="196.6"/>
<line x1="135.0" y1="178.7" x2="144.5" y2="193.5"/>
<line x1="135.0" y1="178.7" x2="120.0" y2="166.0"/>
<line x1="135.0" y1="178.7" x2="138.0" y2="185.0"/>
<line x1="135.0" y1="178.7" x2="150.0" y2="182.0"/>
<line x1="144.5" y1="176.5" x2="154.0" y2="175.5"/>
<line x1="144.5" y1="176.5" x2="161.4" y2="174.4"/>
<line x1="144.5" y1="176.5" x2="140.3" y2="191.3"/>
<line x1="144.5" y1="176.5" x2="147.7" y2="187.1"/>
<line x1="144.5" y1="176.5" x2="157.2" y2="188.2"/>
<line x1="144.5" y1="176.5" x2="144.5" y2="193.5"/>
<line x1="144.5" y1="176.5" x2="153.0" y2="193.5"/>
<line x1="144.5" y1="176.5" x2="160.0" y2="182.0"/>
<line x1="144.5" y1="176.5" x2="138.0" y2="185.0"/>
<line x1="144.5" y1="176.5" x2="150.0" y2="182.0"/>
<line x1="154.0" y1="175.5" x2="161.4" y2="174.4"/>
<line x1="154.0" y1="175.5" x2="167.8" y2="179.7"/>
<line x1="154.0" y1="175.5" x2="147.7" y2="187.1"/>
<line x1="154.0" y1="175.5" x2="157.2" y2="188.2"/>
<line x1="154.0" y1="175.5" x2="153.0" y2="193.5"/>
<line x1="154.0" y1="175.5" x2="160.0" y2="182.0"/>
<line x1="154.0" y1="175.5" x2="138.0" y2="185.0"/>
<line x1="154.0" y1="175.5" x2="150.0" y2="182.0"/>
<line x1="161.4" y1="174.4" x2="167.8" y2="179.7"/>
<line x1="161.4" y1="174.4" x2="147.7" y2="187.1"/>
<line x1="161.4" y1="174.4" x2="157.2" y2="188.2"/>
<line x1="161.4" y1="174.4" x2="160.0" y2="182.0"/>
<line x1="161.4" y1="174.4" x2="150.0" y2="182.0"/>
<line x1="167.8" y1="179.7" x2="157.2" y2="188.2"/>
<line x1="167.8" y1="179.7" x2="160.0" y2="182.0"/>
<line x1="167.8" y1="179.7" x2="150.0" y2="182.0"/>
<line x1="113.8" y1="188.2" x2="124.4" y2="187.1"/>
<line x1="113.8" y1="188.2" x2="129.7" y2="190.3"/>
<line x1="113.8" y1="188.2" x2="118.1" y2="194.5"/>
<line x1="113.8" y1="188.2" x2="110.0" y2="185.0"/>
<line x1="124.4" y1="187.1" x2="129.7" y2="190.3"/>
<line x1="124.4" y1="187.1" x2="140.3" y2="191.3"/>
<line x1="124.4" y1="187.1" x2="118.1" y2="194.5"/>
<line x1="124.4" y1="187.1" x2="130.8" y2="198.8"/>
<line x1="124.4" y1="187.1" x2="137.1" y2="196.6"/>
<line x1="124.4" y1="187.1" x2="110.0" y2="185.0"/>
<line x1="124.4" y1="187.1" x2="138.0" y2="185.0"/>
<line x1="129.7" y1="190.3" x2="140.3" y2="191.3"/>
<line x1="129.7" y1="190.3" x2="147.7" y2="187.1"/>
<line x1="129.7" y1="190.3" x2="118.1" y2="194.5"/>
<line x1="129.7" y1="190.3" x2="130.8" y2="198.8"/>
<line x1="129.7" y1="190.3" x2="137.1" y2="196.6"/>
<line x1="129.7" y1="190.3" x2="144.5" y2="193.5"/>
<line x1="129.7" y1="190.3" x2="138.0" y2="185.0"/>
<line x1="140.3" y1="191.3" x2="147.7" y2="187.1"/>
<line x1="140.3" y1="191.3" x2="157.2" y2="188.2"/>
<line x1="140.3" y1="191.3" x2="130.8" y2="198.8"/>
<line x1="140.3" y1="191.3" x2="137.1" y2="196.6"/>
<line x1="140.3" y1="191.3" x2="144.5" y2="193.5"/>
<line x1="140.3" y1="191.3" x2="153.0" y2="193.5"/>
<line x1="140.3" y1="191.3" x2="138.0" y2="185.0"/>
<line x1="140.3" y1="191.3" x2="150.0" y2="182.0"/>
<line x1="147.7" y1="187.1" x2="157.2" y2="188.2"/>
<line x1="147.7" y1="187.1" x2="137.1" y2="196.6"/>
<line x1="147.7" y1="187.1" x2="144.5" y2="193.5"/>
<line x1="147.7" y1="187.1" x2="153.0" y2="193.5"/>
<line x1="147.7" y1="187.1" x2="160.0" y2="182.0"/>
<line x1="147.7" y1="187.1" x2="138.0" y2="185.0"/>
<line x1="147.7" y1="187.1" x2="150.0" y2="182.0"/>
<line x1="157.2" y1="188.2" x2="144.5" y2="193.5"/>
<line x1="157.2" y1="188.2" x2="153.0" y2="193.5"/>
<line x1="157.2" y1="188.2" x2="160.0" y2="182.0"/>
<line x1="157.2" y1="188.2" x2="138.0" y2="185.0"/>
<line x1="157.2" y1="188.2" x2="150.0" y2="182.0"/>
<line x1="118.1" y1="194.5" x2="130.8" y2="198.8"/>
<line x1="118.1" y1="194.5" x2="137.1" y2="196.6"/>
<line x1="118.1" y1="194.5" x2="110.0" y2="185.0"/>
<line x1="130.8" y1="198.8" x2="137.1" y2="196.6"/>
<line x1="130.8" y1="198.8" x2="144.5" y2="193.5"/>
<line x1="130.8" y1="198.8" x2="138.0" y2="185.0"/>
<line x1="137.1" y1="196.6" x2="144.5" y2="193.5"/>
<line x1="137.1" y1="196.6" x2="153.0" y2="193.5"/>
<line x1="137.1" y1="196.6" x2="138.0" y2="185.0"/>
<line x1="137.1" y1="196.6" x2="150.0" y2="182.0"/>
<line x1="144.5" y1="193.5" x2="153.0" y2="193.5"/>
<line x1="144.5" y1="193.5" x2="160.0" y2="182.0"/>
<line x1="144.5" y1="193.5" x2="138.0" y2="185.0"/>
<line x1="144.5" y1="193.5" x2="150.0" y2="182.0"/>
<line x1="153.0" y1="193.5" x2="160.0" y2="182.0"/>
<line x1="153.0" y1="193.5" x2="138.0" y2="185.0"/>
<line x1="153.0" y1="193.5" x2="150.0" y2="182.0"/>
<line x1="120.0" y1="158.0" x2="120.0" y2="166.0"/>
<line x1="140.0" y1="157.0" x2="152.0" y2="150.0"/>
<line x1="160.0" y1="182.0" x2="150.0" y2="182.0"/>
<line x1="138.0" y1="185.0" x2="150.0" y2="182.0"/>
</g>
<g stroke="#8d9797" stroke-width="1.3" stroke-linecap="round">
<line x1="36.4" y1="156.4" x2="33.8" y2="165.1"/>
<line x1="43.7" y1="165.6" x2="38.0" y2="172.9"/>
<line x1="43.7" y1="165.6" x2="48.8" y2="171.1"/>
<line x1="28.8" y1="174.5" x2="38.0" y2="172.9"/>
<line x1="60.5" y1="169.0" x2="61.0" y2="178.2"/>
<line x1="48.8" y1="179.4" x2="44.2" y2="186.0"/>
<line x1="36.8" y1="181.7" x2="44.2" y2="186.0"/>
<line x1="67.9" y1="183.3" x2="77.1" y2="186.3"/>
<line x1="67.9" y1="183.3" x2="62.1" y2="189.7"/>
<line x1="77.1" y1="186.3" x2="77.1" y2="196.0"/>
<line x1="71.3" y1="193.2" x2="77.1" y2="196.0"/>
<line x1="71.3" y1="193.2" x2="68.6" y2="200.1"/>
<line x1="77.1" y1="196.0" x2="68.6" y2="200.1"/>
<line x1="49.5" y1="201.7" x2="50.2" y2="211.4"/>
<line x1="59.4" y1="202.2" x2="68.6" y2="200.1"/>
<line x1="68.6" y1="200.1" x2="69.0" y2="208.1"/>
<line x1="50.2" y1="211.4" x2="55.2" y2="218.5"/>
<line x1="60.3" y1="212.5" x2="69.0" y2="208.1"/>
<line x1="60.3" y1="212.5" x2="55.2" y2="218.5"/>
</g>
<g stroke="#8f8f8f" stroke-width="0.75">
<line x1="36.4" y1="156.4" x2="33.8" y2="165.1"/>
<line x1="36.4" y1="156.4" x2="43.7" y2="165.6"/>
<line x1="36.4" y1="156.4" x2="38.0" y2="172.9"/>
<line x1="33.8" y1="165.1" x2="43.7" y2="165.6"/>
<line x1="33.8" y1="165.1" x2="28.8" y2="174.5"/>
<line x1="33.8" y1="165.1" x2="38.0" y2="172.9"/>
<line x1="33.8" y1="165.1" x2="48.8" y2="171.1"/>
<line x1="33.8" y1="165.1" x2="36.8" y2="181.7"/>
<line x1="43.7" y1="165.6" x2="28.8" y2="174.5"/>
<line x1="43.7" y1="165.6" x2="38.0" y2="172.9"/>
<line x1="43.7" y1="165.6" x2="48.8" y2="171.1"/>
<line x1="43.7" y1="165.6" x2="60.5" y2="169.0"/>
<line x1="43.7" y1="165.6" x2="48.8" y2="179.4"/>
<line x1="43.7" y1="165.6" x2="36.8" y2="181.7"/>
<line x1="28.8" y1="174.5" x2="38.0" y2="172.9"/>
<line x1="28.8" y1="174.5" x2="36.8" y2="181.7"/>
<line x1="38.0" y1="172.9" x2="48.8" y2="171.1"/>
<line x1="38.0" y1="172.9" x2="48.8" y2="179.4"/>
<line x1="38.0" y1="172.9" x2="36.8" y2="181.7"/>
<line x1="38.0" y1="172.9" x2="44.2" y2="186.0"/>
<line x1="48.8" y1="171.1" x2="60.5" y2="169.0"/>
<line x1="48.8" y1="171.1" x2="48.8" y2="179.4"/>
<line x1="48.8" y1="171.1" x2="61.0" y2="178.2"/>
<line x1="48.8" y1="171.1" x2="36.8" y2="181.7"/>
<line x1="48.8" y1="171.1" x2="44.2" y2="186.0"/>
<line x1="60.5" y1="169.0" x2="48.8" y2="179.4"/>
<line x1="60.5" y1="169.0" x2="61.0" y2="178.2"/>
<line x1="60.5" y1="169.0" x2="67.9" y2="183.3"/>
<line x1="48.8" y1="179.4" x2="61.0" y2="178.2"/>
<line x1="48.8" y1="179.4" x2="36.8" y2="181.7"/>
<line x1="48.8" y1="179.4" x2="44.2" y2="186.0"/>
<line x1="48.8" y1="179.4" x2="41.0" y2="194.1"/>
<line x1="48.8" y1="179.4" x2="53.4" y2="190.9"/>
<line x1="48.8" y1="179.4" x2="62.1" y2="189.7"/>
<line x1="61.0" y1="178.2" x2="67.9" y2="183.3"/>
<line x1="61.0" y1="178.2" x2="53.4" y2="190.9"/>
<line x1="61.0" y1="178.2" x2="62.1" y2="189.7"/>
<line x1="36.8" y1="181.7" x2="44.2" y2="186.0"/>
<line x1="36.8" y1="181.7" x2="41.0" y2="194.1"/>
<line x1="36.8" y1="181.7" x2="30.4" y2="197.1"/>
<line x1="44.2" y1="186.0" x2="41.0" y2="194.1"/>
<line x1="44.2" y1="186.0" x2="53.4" y2="190.9"/>
<line x1="44.2" y1="186.0" x2="30.4" y2="197.1"/>
<line x1="44.2" y1="186.0" x2="49.5" y2="201.7"/>
<line x1="67.9" y1="183.3" x2="77.1" y2="186.3"/>
<line x1="67.9" y1="183.3" x2="53.4" y2="190.9"/>
<line x1="67.9" y1="183.3" x2="62.1" y2="189.7"/>
<line x1="67.9" y1="183.3" x2="71.3" y2="193.2"/>
<line x1="67.9" y1="183.3" x2="77.1" y2="196.0"/>
<line x1="67.9" y1="183.3" x2="68.6" y2="200.1"/>
<line x1="77.1" y1="186.3" x2="62.1" y2="189.7"/>
<line x1="77.1" y1="186.3" x2="71.3" y2="193.2"/>
<line x1="77.1" y1="186.3" x2="77.1" y2="196.0"/>
<line x1="77.1" y1="186.3" x2="68.6" y2="200.1"/>
<line x1="41.0" y1="194.1" x2="53.4" y2="190.9"/>
<line x1="41.0" y1="194.1" x2="30.4" y2="197.1"/>
<line x1="41.0" y1="194.1" x2="49.5" y2="201.7"/>
<line x1="41.0" y1="194.1" x2="38.0" y2="208.6"/>
<line x1="53.4" y1="190.9" x2="62.1" y2="189.7"/>
<line x1="53.4" y1="190.9" x2="49.5" y2="201.7"/>
<line x1="53.4" y1="190.9" x2="59.4" y2="202.2"/>
<line x1="53.4" y1="190.9" x2="68.6" y2="200.1"/>
<line x1="62.1" y1="189.7" x2="71.3" y2="193.2"/>
<line x1="62.1" y1="189.7" x2="77.1" y2="196.0"/>
<line x1="62.1" y1="189.7" x2="49.5" y2="201.7"/>
<line x1="62.1" y1="189.7" x2="59.4" y2="202.2"/>
<line x1="62.1" y1="189.7" x2="68.6" y2="200.1"/>
<line x1="30.4" y1="197.1" x2="38.0" y2="208.6"/>
<line x1="71.3" y1="193.2" x2="77.1" y2="196.0"/>
<line x1="71.3" y1="193.2" x2="59.4" y2="202.2"/>
<line x1="71.3" y1="193.2" x2="68.6" y2="200.1"/>
<line x1="71.3" y1="193.2" x2="69.0" y2="208.1"/>
<line x1="77.1" y1="196.0" x2="68.6" y2="200.1"/>
<line x1="77.1" y1="196.0" x2="69.0" y2="208.1"/>
<line x1="49.5" y1="201.7" x2="59.4" y2="202.2"/>
<line x1="49.5" y1="201.7" x2="38.0" y2="208.6"/>
<line x1="49.5" y1="201.7" x2="50.2" y2="211.4"/>
<line x1="49.5" y1="201.7" x2="60.3" y2="212.5"/>
<line x1="49.5" y1="201.7" x2="55.2" y2="218.5"/>
<line x1="59.4" y1="202.2" x2="68.6" y2="200.1"/>
<line x1="59.4" y1="202.2" x2="50.2" y2="211.4"/>
<line x1="59.4" y1="202.2" x2="60.3" y2="212.5"/>
<line x1="59.4" y1="202.2" x2="69.0" y2="208.1"/>
<line x1="59.4" y1="202.2" x2="55.2" y2="218.5"/>
<line x1="68.6" y1="200.1" x2="60.3" y2="212.5"/>
<line x1="68.6" y1="200.1" x2="69.0" y2="208.1"/>
<line x1="38.0" y1="208.6" x2="50.2" y2="211.4"/>
<line x1="50.2" y1="211.4" x2="60.3" y2="212.5"/>
<line x1="50.2" y1="211.4" x2="55.2" y2="218.5"/>
<line x1="60.3" y1="212.5" x2="69.0" y2="208.1"/>
<line x1="60.3" y1="212.5" x2="55.2" y2="218.5"/>
<line x1="69.0" y1="208.1" x2="55.2" y2="218.5"/>
</g>
<g stroke="#8f8f8f" stroke-width="0.75">
<line x1="100.4" y1="206.6" x2="110.3" y2="206.6"/>
<line x1="100.4" y1="206.6" x2="96.9" y2="213.0"/>
<line x1="100.4" y1="206.6" x2="108.5" y2="212.6"/>
<line x1="100.4" y1="206.6" x2="103.4" y2="218.8"/>
<line x1="110.3" y1="206.6" x2="96.9" y2="213.0"/>
<line x1="110.3" y1="206.6" x2="108.5" y2="212.6"/>
<line x1="110.3" y1="206.6" x2="118.2" y2="212.6"/>
<line x1="110.3" y1="206.6" x2="103.4" y2="218.8"/>
<line x1="110.3" y1="206.6" x2="111.2" y2="221.2"/>
<line x1="96.9" y1="213.0" x2="108.5" y2="212.6"/>
<line x1="96.9" y1="213.0" x2="103.4" y2="218.8"/>
<line x1="96.9" y1="213.0" x2="95.8" y2="224.2"/>
<line x1="96.9" y1="213.0" x2="111.2" y2="221.2"/>
<line x1="108.5" y1="212.6" x2="118.2" y2="212.6"/>
<line x1="108.5" y1="212.6" x2="103.4" y2="218.8"/>
<line x1="108.5" y1="212.6" x2="95.8" y2="224.2"/>
<line x1="108.5" y1="212.6" x2="111.2" y2="221.2"/>
<line x1="108.5" y1="212.6" x2="109.6" y2="229.2"/>
<line x1="118.2" y1="212.6" x2="103.4" y2="218.8"/>
<line x1="118.2" y1="212.6" x2="111.2" y2="221.2"/>
<line x1="103.4" y1="218.8" x2="95.8" y2="224.2"/>
<line x1="103.4" y1="218.8" x2="111.2" y2="221.2"/>
<line x1="103.4" y1="218.8" x2="100.4" y2="235.0"/>
<line x1="103.4" y1="218.8" x2="109.6" y2="229.2"/>
<line x1="95.8" y1="224.2" x2="111.2" y2="221.2"/>
<line x1="95.8" y1="224.2" x2="87.2" y2="231.1"/>
<line x1="95.8" y1="224.2" x2="100.4" y2="235.0"/>
<line x1="95.8" y1="224.2" x2="109.6" y2="229.2"/>
<line x1="111.2" y1="221.2" x2="100.4" y2="235.0"/>
<line x1="111.2" y1="221.2" x2="109.6" y2="229.2"/>
<line x1="87.2" y1="231.1" x2="100.4" y2="235.0"/>
<line x1="100.4" y1="235.0" x2="109.6" y2="229.2"/>
</g>
<g stroke="#8f8f8f" stroke-width="0.75">
<line x1="179.7" y1="199.9" x2="191.8" y2="204.0"/>
<line x1="179.7" y1="199.9" x2="162.6" y2="204.0"/>
<line x1="179.7" y1="199.9" x2="170.3" y2="206.6"/>
<line x1="179.7" y1="199.9" x2="181.5" y2="208.9"/>
<line x1="179.7" y1="199.9" x2="173.0" y2="213.9"/>
<line x1="179.7" y1="199.9" x2="189.1" y2="214.3"/>
<line x1="191.8" y1="204.0" x2="181.5" y2="208.9"/>
<line x1="191.8" y1="204.0" x2="189.1" y2="214.3"/>
<line x1="191.8" y1="204.0" x2="196.5" y2="215.3"/>
<line x1="191.8" y1="204.0" x2="183.3" y2="219.0"/>
<line x1="162.6" y1="204.0" x2="170.3" y2="206.6"/>
<line x1="162.6" y1="204.0" x2="165.3" y2="211.2"/>
<line x1="162.6" y1="204.0" x2="173.0" y2="213.9"/>
<line x1="162.6" y1="204.0" x2="156.8" y2="219.0"/>
<line x1="162.6" y1="204.0" x2="164.5" y2="218.8"/>
<line x1="170.3" y1="206.6" x2="181.5" y2="208.9"/>
<line x1="170.3" y1="206.6" x2="165.3" y2="211.2"/>
<line x1="170.3" y1="206.6" x2="173.0" y2="213.9"/>
<line x1="170.3" y1="206.6" x2="164.5" y2="218.8"/>
<line x1="170.3" y1="206.6" x2="183.3" y2="219.0"/>
<line x1="170.3" y1="206.6" x2="173.9" y2="222.8"/>
<line x1="181.5" y1="208.9" x2="165.3" y2="211.2"/>
<line x1="181.5" y1="208.9" x2="173.0" y2="213.9"/>
<line x1="181.5" y1="208.9" x2="189.1" y2="214.3"/>
<line x1="181.5" y1="208.9" x2="196.5" y2="215.3"/>
<line x1="181.5" y1="208.9" x2="183.3" y2="219.0"/>
<line x1="181.5" y1="208.9" x2="173.9" y2="222.8"/>
<line x1="181.5" y1="208.9" x2="186.0" y2="225.5"/>
<line x1="165.3" y1="211.2" x2="173.0" y2="213.9"/>
<line x1="165.3" y1="211.2" x2="156.8" y2="219.0"/>
<line x1="165.3" y1="211.2" x2="164.5" y2="218.8"/>
<line x1="165.3" y1="211.2" x2="173.9" y2="222.8"/>
<line x1="165.3" y1="211.2" x2="167.6" y2="228.7"/>
<line x1="173.0" y1="213.9" x2="189.1" y2="214.3"/>
<line x1="173.0" y1="213.9" x2="156.8" y2="219.0"/>
<line x1="173.0" y1="213.9" x2="164.5" y2="218.8"/>
<line x1="173.0" y1="213.9" x2="183.3" y2="219.0"/>
<line x1="173.0" y1="213.9" x2="173.9" y2="222.8"/>
<line x1="173.0" y1="213.9" x2="186.0" y2="225.5"/>
<line x1="173.0" y1="213.9" x2="167.6" y2="228.7"/>
<line x1="173.0" y1="213.9" x2="179.7" y2="230.1"/>
<line x1="189.1" y1="214.3" x2="196.5" y2="215.3"/>
<line x1="189.1" y1="214.3" x2="183.3" y2="219.0"/>
<line x1="189.1" y1="214.3" x2="173.9" y2="222.8"/>
<line x1="189.1" y1="214.3" x2="194.9" y2="223.1"/>
<line x1="189.1" y1="214.3" x2="186.0" y2="225.5"/>
<line x1="196.5" y1="215.3" x2="183.3" y2="219.0"/>
<line x1="196.5" y1="215.3" x2="194.9" y2="223.1"/>
<line x1="196.5" y1="215.3" x2="186.0" y2="225.5"/>
<line x1="156.8" y1="219.0" x2="164.5" y2="218.8"/>
<line x1="156.8" y1="219.0" x2="173.9" y2="222.8"/>
<line x1="156.8" y1="219.0" x2="167.6" y2="228.7"/>
<line x1="156.8" y1="219.0" x2="155.9" y2="229.8"/>
<line x1="164.5" y1="218.8" x2="173.9" y2="222.8"/>
<line x1="164.5" y1="218.8" x2="167.6" y2="228.7"/>
<line x1="164.5" y1="218.8" x2="155.9" y2="229.8"/>
<line x1="164.5" y1="218.8" x2="165.8" y2="235.9"/>
<line x1="183.3" y1="219.0" x2="173.9" y2="222.8"/>
<line x1="183.3" y1="219.0" x2="194.9" y2="223.1"/>
<line x1="183.3" y1="219.0" x2="186.0" y2="225.5"/>
<line x1="183.3" y1="219.0" x2="179.7" y2="230.1"/>
<line x1="183.3" y1="219.0" x2="180.6" y2="236.5"/>
<line x1="173.9" y1="222.8" x2="186.0" y2="225.5"/>
<line x1="173.9" y1="222.8" x2="167.6" y2="228.7"/>
<line x1="173.9" y1="222.8" x2="179.7" y2="230.1"/>
<line x1="173.9" y1="222.8" x2="165.8" y2="235.9"/>
<line x1="173.9" y1="222.8" x2="180.6" y2="236.5"/>
<line x1="194.9" y1="223.1" x2="186.0" y2="225.5"/>
<line x1="194.9" y1="223.1" x2="179.7" y2="230.1"/>
<line x1="186.0" y1="225.5" x2="179.7" y2="230.1"/>
<line x1="186.0" y1="225.5" x2="180.6" y2="236.5"/>
<line x1="167.6" y1="228.7" x2="179.7" y2="230.1"/>
<line x1="167.6" y1="228.7" x2="155.9" y2="229.8"/>
<line x1="167.6" y1="228.7" x2="165.8" y2="235.9"/>
<line x1="167.6" y1="228.7" x2="180.6" y2="236.5"/>
<line x1="179.7" y1="230.1" x2="165.8" y2="235.9"/>
<line x1="179.7" y1="230.1" x2="180.6" y2="236.5"/>
<line x1="155.9" y1="229.8" x2="165.8" y2="235.9"/>
<line x1="165.8" y1="235.9" x2="180.6" y2="236.5"/>
</g>
<g stroke="#8d9797" stroke-width="1.3" stroke-linecap="round">
<line x1="128.8" y1="237.9" x2="137.5" y2="239.8"/>
<line x1="150.4" y1="244.2" x2="144.6" y2="248.5"/>
<line x1="150.4" y1="244.2" x2="149.6" y2="251.3"/>
<line x1="144.6" y1="248.5" x2="137.5" y2="251.3"/>
<line x1="127.3" y1="253.8" x2="126.9" y2="262.3"/>
<line x1="137.5" y1="251.3" x2="137.5" y2="259.6"/>
<line x1="149.0" y1="257.7" x2="150.4" y2="266.7"/>
<line x1="118.3" y1="262.3" x2="126.9" y2="262.3"/>
<line x1="126.9" y1="262.3" x2="125.0" y2="271.5"/>
<line x1="125.0" y1="271.5" x2="134.2" y2="271.9"/>
<line x1="134.2" y1="271.9" x2="133.7" y2="280.8"/>
<line x1="138.0" y1="268.7" x2="142.3" y2="276.3"/>
<line x1="142.3" y1="276.3" x2="148.0" y2="273.8"/>
</g>
<g stroke="#8f8f8f" stroke-width="0.75">
<line x1="128.8" y1="237.9" x2="137.5" y2="239.8"/>
<line x1="128.8" y1="237.9" x2="125.0" y2="245.0"/>
<line x1="128.8" y1="237.9" x2="127.3" y2="253.8"/>
<line x1="128.8" y1="237.9" x2="137.5" y2="251.3"/>
<line x1="137.5" y1="239.8" x2="125.0" y2="245.0"/>
<line x1="137.5" y1="239.8" x2="150.4" y2="244.2"/>
<line x1="137.5" y1="239.8" x2="144.6" y2="248.5"/>
<line x1="137.5" y1="239.8" x2="127.3" y2="253.8"/>
<line x1="137.5" y1="239.8" x2="137.5" y2="251.3"/>
<line x1="137.5" y1="239.8" x2="149.6" y2="251.3"/>
<line x1="125.0" y1="245.0" x2="115.8" y2="253.3"/>
<line x1="125.0" y1="245.0" x2="127.3" y2="253.8"/>
<line x1="125.0" y1="245.0" x2="137.5" y2="251.3"/>
<line x1="125.0" y1="245.0" x2="126.9" y2="262.3"/>
<line x1="150.4" y1="244.2" x2="144.6" y2="248.5"/>
<line x1="150.4" y1="244.2" x2="137.5" y2="251.3"/>
<line x1="150.4" y1="244.2" x2="149.6" y2="251.3"/>
<line x1="150.4" y1="244.2" x2="149.0" y2="257.7"/>
<line x1="144.6" y1="248.5" x2="137.5" y2="251.3"/>
<line x1="144.6" y1="248.5" x2="149.6" y2="251.3"/>
<line x1="144.6" y1="248.5" x2="149.0" y2="257.7"/>
<line x1="144.6" y1="248.5" x2="137.5" y2="259.6"/>
<line x1="115.8" y1="253.3" x2="127.3" y2="253.8"/>
<line x1="115.8" y1="253.3" x2="118.3" y2="262.3"/>
<line x1="115.8" y1="253.3" x2="126.9" y2="262.3"/>
<line x1="127.3" y1="253.8" x2="137.5" y2="251.3"/>
<line x1="127.3" y1="253.8" x2="137.5" y2="259.6"/>
<line x1="127.3" y1="253.8" x2="118.3" y2="262.3"/>
<line x1="127.3" y1="253.8" x2="126.9" y2="262.3"/>
<line x1="127.3" y1="253.8" x2="125.0" y2="271.5"/>
<line x1="137.5" y1="251.3" x2="149.6" y2="251.3"/>
<line x1="137.5" y1="251.3" x2="149.0" y2="257.7"/>
<line x1="137.5" y1="251.3" x2="137.5" y2="259.6"/>
<line x1="137.5" y1="251.3" x2="126.9" y2="262.3"/>
<line x1="137.5" y1="251.3" x2="138.0" y2="268.7"/>
<line x1="149.6" y1="251.3" x2="149.0" y2="257.7"/>
<line x1="149.6" y1="251.3" x2="137.5" y2="259.6"/>
<line x1="149.6" y1="251.3" x2="150.4" y2="266.7"/>
<line x1="149.0" y1="257.7" x2="137.5" y2="259.6"/>
<line x1="149.0" y1="257.7" x2="150.4" y2="266.7"/>
<line x1="149.0" y1="257.7" x2="138.0" y2="268.7"/>
<line x1="149.0" y1="257.7" x2="148.0" y2="273.8"/>
<line x1="137.5" y1="259.6" x2="126.9" y2="262.3"/>
<line x1="137.5" y1="259.6" x2="150.4" y2="266.7"/>
<line x1="137.5" y1="259.6" x2="125.0" y2="271.5"/>
<line x1="137.5" y1="259.6" x2="134.2" y2="271.9"/>
<line x1="137.5" y1="259.6" x2="138.0" y2="268.7"/>
<line x1="137.5" y1="259.6" x2="142.3" y2="276.3"/>
<line x1="137.5" y1="259.6" x2="148.0" y2="273.8"/>
<line x1="118.3" y1="262.3" x2="126.9" y2="262.3"/>
<line x1="118.3" y1="262.3" x2="125.0" y2="271.5"/>
<line x1="126.9" y1="262.3" x2="125.0" y2="271.5"/>
<line x1="126.9" y1="262.3" x2="134.2" y2="271.9"/>
<line x1="126.9" y1="262.3" x2="138.0" y2="268.7"/>
<line x1="150.4" y1="266.7" x2="134.2" y2="271.9"/>
<line x1="150.4" y1="266.7" x2="138.0" y2="268.7"/>
<line x1="150.4" y1="266.7" x2="142.3" y2="276.3"/>
<line x1="150.4" y1="266.7" x2="148.0" y2="273.8"/>
<line x1="125.0" y1="271.5" x2="134.2" y2="271.9"/>
<line x1="125.0" y1="271.5" x2="138.0" y2="268.7"/>
<line x1="125.0" y1="271.5" x2="142.3" y2="276.3"/>
<line x1="125.0" y1="271.5" x2="133.7" y2="280.8"/>
<line x1="134.2" y1="271.9" x2="138.0" y2="268.7"/>
<line x1="134.2" y1="271.9" x2="142.3" y2="276.3"/>
<line x1="134.2" y1="271.9" x2="148.0" y2="273.8"/>
<line x1="134.2" y1="271.9" x2="133.7" y2="280.8"/>
<line x1="138.0" y1="268.7" x2="142.3" y2="276.3"/>
<line x1="138.0" y1="268.7" x2="148.0" y2="273.8"/>
<line x1="138.0" y1="268.7" x2="133.7" y2="280.8"/>
<line x1="142.3" y1="276.3" x2="148.0" y2="273.8"/>
<line x1="142.3" y1="276.3" x2="133.7" y2="280.8"/>
<line x1="148.0" y1="273.8" x2="133.7" y2="280.8"/>
</g>
<g stroke="#8f8f8f" stroke-width="0.75">
<line x1="99.0" y1="42.7" x2="109.5" y2="42.2"/>
<line x1="109.5" y1="42.2" x2="116.0" y2="53.0"/>
<line x1="113.9" y1="49.2" x2="112.8" y2="55.2"/>
<line x1="113.9" y1="49.2" x2="119.0" y2="58.0"/>
<line x1="126.9" y1="48.0" x2="126.9" y2="56.6"/>
<line x1="126.9" y1="48.0" x2="116.0" y2="53.0"/>
<line x1="121.6" y1="54.2" x2="126.9" y2="56.6"/>
<line x1="121.6" y1="54.2" x2="129.8" y2="62.9"/>
<line x1="121.6" y1="54.2" x2="112.8" y2="55.2"/>
<line x1="121.6" y1="54.2" x2="114.0" y2="62.3"/>
<line x1="126.9" y1="56.6" x2="133.7" y2="59.0"/>
<line x1="126.9" y1="56.6" x2="137.5" y2="65.3"/>
<line x1="126.9" y1="56.6" x2="120.9" y2="62.6"/>
<line x1="126.9" y1="56.6" x2="118.7" y2="66.2"/>
<line x1="126.9" y1="56.6" x2="119.0" y2="58.0"/>
<line x1="126.9" y1="56.6" x2="123.0" y2="63.0"/>
<line x1="133.7" y1="59.0" x2="129.8" y2="62.9"/>
<line x1="133.7" y1="59.0" x2="125.0" y2="67.7"/>
<line x1="137.5" y1="65.3" x2="136.1" y2="78.3"/>
<line x1="135.1" y1="72.0" x2="129.8" y2="62.9"/>
<line x1="135.1" y1="72.0" x2="123.0" y2="72.0"/>
<line x1="129.8" y1="62.9" x2="123.0" y2="72.0"/>
<line x1="125.0" y1="67.7" x2="111.3" y2="66.3"/>
<line x1="125.0" y1="67.7" x2="118.7" y2="66.2"/>
<line x1="125.0" y1="67.7" x2="114.0" y2="73.4"/>
<line x1="125.0" y1="67.7" x2="124.0" y2="80.0"/>
<line x1="79.7" y1="51.3" x2="91.7" y2="56.2"/>
<line x1="72.5" y1="58.0" x2="76.8" y2="66.7"/>
<line x1="72.5" y1="58.0" x2="82.1" y2="60.0"/>
<line x1="76.8" y1="66.7" x2="88.7" y2="72.4"/>
<line x1="76.8" y1="66.7" x2="84.0" y2="78.0"/>
<line x1="82.1" y1="60.0" x2="85.6" y2="68.1"/>
<line x1="86.9" y1="55.2" x2="99.5" y2="56.8"/>
<line x1="86.9" y1="55.2" x2="92.0" y2="60.0"/>
<line x1="91.7" y1="56.2" x2="99.0" y2="53.3"/>
<line x1="91.7" y1="56.2" x2="94.9" y2="61.2"/>
<line x1="91.7" y1="56.2" x2="102.5" y2="60.9"/>
<line x1="91.7" y1="56.2" x2="85.6" y2="68.1"/>
<line x1="91.7" y1="56.2" x2="92.9" y2="66.6"/>
<line x1="99.0" y1="53.3" x2="99.5" y2="56.8"/>
<line x1="99.0" y1="53.3" x2="105.4" y2="56.9"/>
<line x1="99.0" y1="53.3" x2="112.8" y2="55.2"/>
<line x1="99.0" y1="53.3" x2="102.5" y2="60.9"/>
<line x1="99.0" y1="53.3" x2="107.8" y2="61.8"/>
<line x1="82.1" y1="74.4" x2="78.8" y2="82.4"/>
<line x1="82.1" y1="74.4" x2="85.6" y2="68.1"/>
<line x1="82.1" y1="74.4" x2="92.9" y2="66.6"/>
<line x1="82.1" y1="74.4" x2="85.4" y2="79.3"/>
<line x1="82.1" y1="74.4" x2="93.0" y2="79.3"/>
<line x1="82.1" y1="74.4" x2="86.0" y2="66.0"/>
<line x1="65.3" y1="93.5" x2="72.5" y2="94.2"/>
<line x1="78.8" y1="82.4" x2="89.2" y2="84.8"/>
<line x1="78.8" y1="82.4" x2="86.0" y2="86.0"/>
<line x1="78.8" y1="82.4" x2="85.0" y2="71.0"/>
<line x1="87.9" y1="94.4" x2="94.6" y2="99.2"/>
<line x1="87.9" y1="94.4" x2="89.2" y2="84.8"/>
<line x1="87.9" y1="94.4" x2="86.0" y2="86.0"/>
<line x1="90.8" y1="106.0" x2="94.1" y2="114.1"/>
<line x1="85.2" y1="110.3" x2="94.1" y2="114.1"/>
<line x1="94.1" y1="114.1" x2="87.9" y2="124.7"/>
<line x1="94.1" y1="114.1" x2="103.3" y2="109.8"/>
<line x1="81.2" y1="117.0" x2="87.9" y2="124.7"/>
<line x1="103.3" y1="109.8" x2="112.0" y2="99.0"/>
<line x1="103.3" y1="109.8" x2="105.0" y2="100.0"/>
<line x1="99.4" y1="100.2" x2="111.1" y2="107.4"/>
<line x1="99.4" y1="100.2" x2="107.7" y2="96.8"/>
<line x1="99.4" y1="100.2" x2="99.8" y2="88.7"/>
<line x1="99.4" y1="100.2" x2="106.2" y2="88.9"/>
<line x1="99.4" y1="100.2" x2="108.5" y2="95.7"/>
<line x1="99.4" y1="100.2" x2="105.0" y2="100.0"/>
<line x1="99.4" y1="100.2" x2="97.0" y2="97.0"/>
<line x1="124.5" y1="85.3" x2="119.7" y2="97.3"/>
<line x1="124.5" y1="85.3" x2="121.6" y2="83.8"/>
<line x1="124.5" y1="85.3" x2="117.7" y2="89.5"/>
<line x1="124.5" y1="85.3" x2="124.0" y2="80.0"/>
<line x1="119.7" y1="97.3" x2="112.0" y2="99.0"/>
<line x1="111.1" y1="107.4" x2="107.7" y2="96.8"/>
<line x1="111.1" y1="107.4" x2="108.5" y2="95.7"/>
<line x1="111.1" y1="107.4" x2="114.6" y2="95.0"/>
<line x1="107.7" y1="96.8" x2="106.2" y2="88.9"/>
<line x1="107.7" y1="96.8" x2="102.7" y2="96.2"/>
<line x1="107.7" y1="96.8" x2="112.0" y2="99.0"/>
<line x1="107.7" y1="96.8" x2="105.0" y2="100.0"/>
<line x1="99.5" y1="56.8" x2="105.4" y2="56.9"/>
<line x1="99.5" y1="56.8" x2="112.8" y2="55.2"/>
<line x1="99.5" y1="56.8" x2="92.9" y2="66.6"/>
<line x1="99.5" y1="56.8" x2="92.0" y2="60.0"/>
<line x1="105.4" y1="56.9" x2="102.5" y2="60.9"/>
<line x1="105.4" y1="56.9" x2="107.8" y2="61.8"/>
<line x1="105.4" y1="56.9" x2="114.0" y2="62.3"/>
<line x1="105.4" y1="56.9" x2="99.4" y2="68.1"/>
<line x1="105.4" y1="56.9" x2="92.0" y2="60.0"/>
<line x1="112.8" y1="55.2" x2="102.5" y2="60.9"/>
<line x1="112.8" y1="55.2" x2="114.0" y2="62.3"/>
<line x1="112.8" y1="55.2" x2="120.9" y2="62.6"/>
<line x1="112.8" y1="55.2" x2="116.0" y2="53.0"/>
<line x1="112.8" y1="55.2" x2="119.0" y2="58.0"/>
<line x1="94.9" y1="61.2" x2="102.5" y2="60.9"/>
<line x1="94.9" y1="61.2" x2="107.8" y2="61.8"/>
<line x1="94.9" y1="61.2" x2="102.4" y2="71.9"/>
<line x1="94.9" y1="61.2" x2="85.0" y2="71.0"/>
<line x1="102.5" y1="60.9" x2="114.0" y2="62.3"/>
<line x1="102.5" y1="60.9" x2="92.9" y2="66.6"/>
<line x1="102.5" y1="60.9" x2="105.1" y2="66.9"/>
<line x1="102.5" y1="60.9" x2="102.4" y2="71.9"/>
<line x1="102.5" y1="60.9" x2="107.5" y2="73.3"/>
<line x1="102.5" y1="60.9" x2="108.0" y2="52.0"/>
<line x1="107.8" y1="61.8" x2="100.0" y2="56.0"/>
<line x1="114.0" y1="62.3" x2="105.1" y2="66.9"/>
<line x1="114.0" y1="62.3" x2="111.3" y2="66.3"/>
<line x1="114.0" y1="62.3" x2="114.0" y2="73.4"/>
<line x1="120.9" y1="62.6" x2="119.0" y2="58.0"/>
<line x1="120.9" y1="62.6" x2="123.0" y2="72.0"/>
<line x1="85.6" y1="68.1" x2="85.4" y2="79.3"/>
<line x1="85.6" y1="68.1" x2="92.0" y2="60.0"/>
<line x1="85.6" y1="68.1" x2="85.0" y2="71.0"/>
<line x1="92.9" y1="66.6" x2="105.1" y2="66.9"/>
<line x1="92.9" y1="66.6" x2="88.7" y2="72.4"/>
<line x1="92.9" y1="66.6" x2="102.4" y2="71.9"/>
<line x1="99.4" y1="68.1" x2="88.7" y2="72.4"/>
<line x1="99.4" y1="68.1" x2="102.4" y2="71.9"/>
<line x1="99.4" y1="68.1" x2="107.5" y2="73.3"/>
<line x1="99.4" y1="68.1" x2="93.0" y2="79.3"/>
<line x1="99.4" y1="68.1" x2="100.0" y2="56.0"/>
<line x1="111.3" y1="66.3" x2="102.4" y2="71.9"/>
<line x1="111.3" y1="66.3" x2="107.5" y2="73.3"/>
<line x1="111.3" y1="66.3" x2="114.0" y2="73.4"/>
<line x1="111.3" y1="66.3" x2="121.7" y2="71.8"/>
<line x1="111.3" y1="66.3" x2="119.4" y2="77.6"/>
<line x1="111.3" y1="66.3" x2="123.0" y2="72.0"/>
<line x1="118.7" y1="66.2" x2="116.0" y2="53.0"/>
<line x1="118.7" y1="66.2" x2="123.0" y2="63.0"/>
<line x1="118.7" y1="66.2" x2="123.0" y2="72.0"/>
<line x1="88.7" y1="72.4" x2="93.0" y2="79.3"/>
<line x1="88.7" y1="72.4" x2="98.7" y2="78.1"/>
<line x1="88.7" y1="72.4" x2="96.3" y2="84.1"/>
<line x1="88.7" y1="72.4" x2="84.0" y2="78.0"/>
<line x1="95.5" y1="72.4" x2="101.6" y2="83.4"/>
<line x1="95.5" y1="72.4" x2="86.0" y2="66.0"/>
<line x1="95.5" y1="72.4" x2="85.0" y2="71.0"/>
<line x1="102.4" y1="71.9" x2="114.0" y2="73.4"/>
<line x1="102.4" y1="71.9" x2="106.1" y2="77.6"/>
<line x1="107.5" y1="73.3" x2="119.4" y2="77.6"/>
<line x1="114.0" y1="73.4" x2="112.6" y2="79.1"/>
<line x1="114.0" y1="73.4" x2="114.3" y2="83.1"/>
<line x1="121.7" y1="71.8" x2="119.4" y2="77.6"/>
<line x1="121.7" y1="71.8" x2="123.0" y2="63.0"/>
<line x1="121.7" y1="71.8" x2="123.0" y2="72.0"/>
<line x1="85.4" y1="79.3" x2="98.7" y2="78.1"/>
<line x1="85.4" y1="79.3" x2="96.3" y2="84.1"/>
<line x1="85.4" y1="79.3" x2="86.0" y2="66.0"/>
<line x1="85.4" y1="79.3" x2="86.0" y2="86.0"/>
<line x1="85.4" y1="79.3" x2="85.0" y2="71.0"/>
<line x1="93.0" y1="79.3" x2="106.1" y2="77.6"/>
<line x1="93.0" y1="79.3" x2="96.3" y2="84.1"/>
<line x1="93.0" y1="79.3" x2="101.6" y2="83.4"/>
<line x1="98.7" y1="78.1" x2="89.2" y2="84.8"/>
<line x1="98.7" y1="78.1" x2="96.3" y2="84.1"/>
<line x1="98.7" y1="78.1" x2="107.8" y2="84.4"/>
<line x1="106.1" y1="77.6" x2="112.6" y2="79.1"/>
<line x1="106.1" y1="77.6" x2="119.4" y2="77.6"/>
<line x1="106.1" y1="77.6" x2="96.3" y2="84.1"/>
<line x1="106.1" y1="77.6" x2="114.3" y2="83.1"/>
<line x1="112.6" y1="79.1" x2="101.6" y2="83.4"/>
<line x1="112.6" y1="79.1" x2="123.0" y2="72.0"/>
<line x1="119.4" y1="77.6" x2="114.3" y2="83.1"/>
<line x1="119.4" y1="77.6" x2="121.6" y2="83.8"/>
<line x1="119.4" y1="77.6" x2="117.7" y2="89.5"/>
<line x1="119.4" y1="77.6" x2="122.0" y2="88.0"/>
<line x1="89.2" y1="84.8" x2="101.6" y2="83.4"/>
<line x1="89.2" y1="84.8" x2="84.0" y2="78.0"/>
<line x1="96.3" y1="84.1" x2="92.4" y2="89.4"/>
<line x1="96.3" y1="84.1" x2="90.0" y2="93.0"/>
<line x1="101.6" y1="83.4" x2="106.2" y2="88.9"/>
<line x1="101.6" y1="83.4" x2="112.9" y2="89.9"/>
<line x1="107.8" y1="84.4" x2="108.5" y2="95.7"/>
<line x1="107.8" y1="84.4" x2="114.6" y2="95.0"/>
<line x1="114.3" y1="83.1" x2="122.0" y2="88.0"/>
<line x1="114.3" y1="83.1" x2="118.0" y2="94.0"/>
<line x1="121.6" y1="83.8" x2="112.9" y2="89.9"/>
<line x1="121.6" y1="83.8" x2="123.0" y2="72.0"/>
<line x1="121.6" y1="83.8" x2="118.0" y2="94.0"/>
<line x1="92.4" y1="89.4" x2="99.8" y2="88.7"/>
<line x1="106.2" y1="88.9" x2="108.5" y2="95.7"/>
<line x1="112.9" y1="89.9" x2="102.7" y2="96.2"/>
<line x1="112.9" y1="89.9" x2="105.0" y2="100.0"/>
<line x1="117.7" y1="89.5" x2="124.0" y2="80.0"/>
<line x1="117.7" y1="89.5" x2="122.0" y2="88.0"/>
<line x1="117.7" y1="89.5" x2="112.0" y2="99.0"/>
<line x1="102.7" y1="96.2" x2="108.5" y2="95.7"/>
<line x1="102.7" y1="96.2" x2="112.0" y2="99.0"/>
<line x1="114.6" y1="95.0" x2="122.0" y2="88.0"/>
<line x1="114.6" y1="95.0" x2="118.0" y2="94.0"/>
<line x1="108.0" y1="52.0" x2="116.0" y2="53.0"/>
<line x1="116.0" y1="53.0" x2="119.0" y2="58.0"/>
<line x1="119.0" y1="58.0" x2="123.0" y2="63.0"/>
<line x1="124.0" y1="80.0" x2="122.0" y2="88.0"/>
<line x1="112.0" y1="99.0" x2="105.0" y2="100.0"/>
<line x1="105.0" y1="100.0" x2="97.0" y2="97.0"/>
<line x1="90.0" y1="93.0" x2="86.0" y2="86.0"/>
</g>
<g stroke="#c4b9ae" stroke-width="0.6">
<line x1="182.1" y1="45.6" x2="195" y2="60.4"/>
<line x1="200.4" y1="41.7" x2="195" y2="60.4"/>
<line x1="213.8" y1="54.6" x2="195" y2="60.4"/>
</g>
<g stroke="#a5a09a" stroke-width="0.9">
<line x1="195" y1="60.4" x2="181.2" y2="69.2"/>
<line x1="195" y1="60.4" x2="192.3" y2="72.5"/>
<line x1="195" y1="60.4" x2="203.8" y2="73.8"/>
<line x1="195" y1="60.4" x2="183.5" y2="82.1"/>
<line x1="195" y1="60.4" x2="196.2" y2="84.6"/>
<line x1="181.2" y1="69.2" x2="192.3" y2="72.5"/>
<line x1="181.2" y1="69.2" x2="203.8" y2="73.8"/>
<line x1="181.2" y1="69.2" x2="183.5" y2="82.1"/>
<line x1="181.2" y1="69.2" x2="196.2" y2="84.6"/>
<line x1="192.3" y1="72.5" x2="203.8" y2="73.8"/>
<line x1="192.3" y1="72.5" x2="183.5" y2="82.1"/>
<line x1="192.3" y1="72.5" x2="196.2" y2="84.6"/>
<line x1="203.8" y1="73.8" x2="183.5" y2="82.1"/>
<line x1="203.8" y1="73.8" x2="196.2" y2="84.6"/>
<line x1="183.5" y1="82.1" x2="196.2" y2="84.6"/>
</g>
<path d="M86,66 L92,60 L100,56 L108,52 L116,53 L119,58 L123,63 L123,72 L124,80 L122,88 L118,94 L112,99 L105,100 L97,97 L90,93 L86,86 L84,78 L85,71 Z" fill="#769ccf"/>
<g fill="#f2a79f">
<circle cx="137.5" cy="106.0" r="2.8"/>
<circle cx="145.2" cy="104.6" r="2.8"/>
<circle cx="151.0" cy="107.9" r="3.3"/>
<circle cx="159.2" cy="107.3" r="3.1"/>
<circle cx="133.7" cy="113.7" r="2.8"/>
<circle cx="142.3" cy="113.7" r="3.8"/>
<circle cx="150.0" cy="115.0" r="3.6"/>
<circle cx="158.0" cy="115.6" r="2.8"/>
<circle cx="136.5" cy="122.3" r="2.8"/>
<circle cx="146.2" cy="123.8" r="3.3"/>
<circle cx="155.4" cy="123.3" r="3.1"/>
</g>
<g fill="#f2a79f">
<circle cx="182.3" cy="125.2" r="2.8"/>
<circle cx="176.9" cy="131.5" r="2.8"/>
<circle cx="192.7" cy="130.0" r="3.3"/>
<circle cx="186.5" cy="135.8" r="3.8"/>
<circle cx="176.0" cy="140.0" r="4.3"/>
<circle cx="185.6" cy="145.4" r="2.8"/>
<circle cx="197.0" cy="142.5" r="3.3"/>
<circle cx="198.0" cy="135.8" r="2.8"/>
</g>
<g fill="#f2a79f">
<circle cx="113.8" cy="145.2" r="3.4"/>
<circle cx="123.4" cy="141.6" r="3.4"/>
<circle cx="129.7" cy="143.8" r="3.4"/>
<circle cx="112.8" cy="153.3" r="4.9"/>
<circle cx="123.4" cy="150.1" r="5.4"/>
<circle cx="136.0" cy="149.5" r="4.4"/>
<circle cx="145.6" cy="155.0" r="4.9"/>
<circle cx="163.6" cy="155.4" r="3.2"/>
<circle cx="130.8" cy="156.4" r="4.4"/>
<circle cx="113.8" cy="162.8" r="5.4"/>
<circle cx="131.8" cy="163.8" r="5.4"/>
<circle cx="145.6" cy="163.8" r="4.9"/>
<circle cx="156.2" cy="160.7" r="3.9"/>
<circle cx="165.7" cy="162.8" r="2.9"/>
<circle cx="107.5" cy="171.3" r="3.9"/>
<circle cx="116.0" cy="174.4" r="3.9"/>
<circle cx="125.5" cy="172.3" r="4.4"/>
<circle cx="137.1" cy="170.2" r="3.9"/>
<circle cx="148.8" cy="169.1" r="4.4"/>
<circle cx="157.2" cy="171.3" r="3.4"/>
<circle cx="166.7" cy="169.1" r="3.9"/>
<circle cx="106.4" cy="180.8" r="3.4"/>
<circle cx="117.0" cy="180.8" r="3.9"/>
<circle cx="125.5" cy="180.8" r="5.4"/>
<circle cx="135.0" cy="178.7" r="3.9"/>
<circle cx="144.5" cy="176.5" r="3.9"/>
<circle cx="154.0" cy="175.5" r="3.4"/>
<circle cx="161.4" cy="174.4" r="3.4"/>
<circle cx="167.8" cy="179.7" r="3.4"/>
<circle cx="113.8" cy="188.2" r="3.4"/>
<circle cx="124.4" cy="187.1" r="4.4"/>
<circle cx="129.7" cy="190.3" r="3.9"/>
<circle cx="140.3" cy="191.3" r="3.9"/>
<circle cx="147.7" cy="187.1" r="3.4"/>
<circle cx="157.2" cy="188.2" r="3.4"/>
<circle cx="118.1" cy="194.5" r="3.4"/>
<circle cx="130.8" cy="198.8" r="2.9"/>
<circle cx="137.1" cy="196.6" r="3.4"/>
<circle cx="144.5" cy="193.5" r="3.4"/>
<circle cx="153.0" cy="193.5" r="3.4"/>
<circle cx="120.0" cy="158.0" r="4.4"/>
<circle cx="140.0" cy="157.0" r="4.4"/>
<circle cx="152.0" cy="150.0" r="3.4"/>
<circle cx="120.0" cy="166.0" r="4.4"/>
<circle cx="160.0" cy="182.0" r="3.4"/>
<circle cx="110.0" cy="185.0" r="2.9"/>
<circle cx="138.0" cy="185.0" r="4.4"/>
<circle cx="150.0" cy="182.0" r="3.9"/>
</g>
<g fill="#f2a79f">
<circle cx="36.4" cy="156.4" r="3.0"/>
<circle cx="33.8" cy="165.1" r="3.3"/>
<circle cx="43.7" cy="165.6" r="3.3"/>
<circle cx="28.8" cy="174.5" r="3.3"/>
<circle cx="38.0" cy="172.9" r="3.5"/>
<circle cx="48.8" cy="171.1" r="3.0"/>
<circle cx="60.5" cy="169.0" r="3.0"/>
<circle cx="48.8" cy="179.4" r="5.5"/>
<circle cx="61.0" cy="178.2" r="6.0"/>
<circle cx="36.8" cy="181.7" r="3.8"/>
<circle cx="44.2" cy="186.0" r="3.5"/>
<circle cx="67.9" cy="183.3" r="3.0"/>
<circle cx="77.1" cy="186.3" r="3.0"/>
<circle cx="41.0" cy="194.1" r="6.0"/>
<circle cx="53.4" cy="190.9" r="5.0"/>
<circle cx="62.1" cy="189.7" r="4.0"/>
<circle cx="30.4" cy="197.1" r="3.5"/>
<circle cx="71.3" cy="193.2" r="3.0"/>
<circle cx="77.1" cy="196.0" r="3.0"/>
<circle cx="49.5" cy="201.7" r="5.0"/>
<circle cx="59.4" cy="202.2" r="4.5"/>
<circle cx="68.6" cy="200.1" r="4.0"/>
<circle cx="38.0" cy="208.6" r="3.0"/>
<circle cx="50.2" cy="211.4" r="3.0"/>
<circle cx="60.3" cy="212.5" r="3.0"/>
<circle cx="69.0" cy="208.1" r="3.0"/>
<circle cx="55.2" cy="218.5" r="3.0"/>
</g>
<g fill="#f2a79f">
<circle cx="100.4" cy="206.6" r="3.0"/>
<circle cx="110.3" cy="206.6" r="3.0"/>
<circle cx="96.9" cy="213.0" r="3.0"/>
<circle cx="108.5" cy="212.6" r="3.0"/>
<circle cx="118.2" cy="212.6" r="3.0"/>
<circle cx="103.4" cy="218.8" r="3.0"/>
<circle cx="95.8" cy="224.2" r="5.5"/>
<circle cx="111.2" cy="221.2" r="3.5"/>
<circle cx="87.2" cy="231.1" r="5.0"/>
<circle cx="100.4" cy="235.0" r="4.0"/>
<circle cx="109.6" cy="229.2" r="3.0"/>
</g>
<g fill="#f2a79f">
<circle cx="179.7" cy="199.9" r="3.5"/>
<circle cx="191.8" cy="204.0" r="4.5"/>
<circle cx="162.6" cy="204.0" r="3.5"/>
<circle cx="170.3" cy="206.6" r="3.0"/>
<circle cx="181.5" cy="208.9" r="5.5"/>
<circle cx="165.3" cy="211.2" r="3.8"/>
<circle cx="173.0" cy="213.9" r="4.0"/>
<circle cx="189.1" cy="214.3" r="3.3"/>
<circle cx="196.5" cy="215.3" r="3.0"/>
<circle cx="156.8" cy="219.0" r="3.0"/>
<circle cx="164.5" cy="218.8" r="3.3"/>
<circle cx="183.3" cy="219.0" r="3.3"/>
<circle cx="173.9" cy="222.8" r="4.5"/>
<circle cx="194.9" cy="223.1" r="4.3"/>
<circle cx="186.0" cy="225.5" r="3.3"/>
<circle cx="167.6" cy="228.7" r="4.0"/>
<circle cx="179.7" cy="230.1" r="3.7"/>
<circle cx="155.9" cy="229.8" r="3.0"/>
<circle cx="165.8" cy="235.9" r="3.3"/>
<circle cx="180.6" cy="236.5" r="3.3"/>
</g>
<g fill="#f2a79f">
<circle cx="128.8" cy="237.9" r="5.0"/>
<circle cx="137.5" cy="239.8" r="3.0"/>
<circle cx="125.0" cy="245.0" r="3.5"/>
<circle cx="150.4" cy="244.2" r="3.5"/>
<circle cx="144.6" cy="248.5" r="3.0"/>
<circle cx="115.8" cy="253.3" r="5.0"/>
<circle cx="127.3" cy="253.8" r="6.0"/>
<circle cx="137.5" cy="251.3" r="3.0"/>
<circle cx="149.6" cy="251.3" r="3.5"/>
<circle cx="149.0" cy="257.7" r="4.0"/>
<circle cx="137.5" cy="259.6" r="5.0"/>
<circle cx="118.3" cy="262.3" r="3.3"/>
<circle cx="126.9" cy="262.3" r="4.0"/>
<circle cx="150.4" cy="266.7" r="4.0"/>
<circle cx="125.0" cy="271.5" r="4.5"/>
<circle cx="134.2" cy="271.9" r="3.5"/>
<circle cx="138.0" cy="268.7" r="3.5"/>
<circle cx="142.3" cy="276.3" r="3.0"/>
<circle cx="148.0" cy="273.8" r="3.3"/>
<circle cx="133.7" cy="280.8" r="5.0"/>
</g>
<g fill="#769ccf" stroke="#86a9d8" stroke-width="0.35">
<circle cx="99.0" cy="42.7" r="3.3"/>
<circle cx="109.5" cy="42.2" r="3.2"/>
<circle cx="113.9" cy="49.2" r="2.9"/>
<circle cx="126.9" cy="48.0" r="2.9"/>
<circle cx="121.6" cy="54.2" r="4.1"/>
<circle cx="126.9" cy="56.6" r="2.9"/>
<circle cx="133.7" cy="59.0" r="3.4"/>
<circle cx="137.5" cy="65.3" r="3.2"/>
<circle cx="135.1" cy="72.0" r="3.2"/>
<circle cx="136.1" cy="78.3" r="2.9"/>
<circle cx="129.8" cy="62.9" r="3.8"/>
<circle cx="125.0" cy="67.7" r="3.8"/>
<circle cx="79.7" cy="51.3" r="4.3"/>
<circle cx="72.5" cy="58.0" r="3.8"/>
<circle cx="76.8" cy="66.7" r="3.3"/>
<circle cx="82.1" cy="60.0" r="3.8"/>
<circle cx="86.9" cy="55.2" r="3.8"/>
<circle cx="91.7" cy="56.2" r="3.3"/>
<circle cx="99.0" cy="53.3" r="3.6"/>
<circle cx="82.1" cy="74.4" r="3.3"/>
<circle cx="79.2" cy="81.2" r="4.3"/>
<circle cx="65.3" cy="93.5" r="3.3"/>
<circle cx="72.5" cy="94.2" r="2.9"/>
<circle cx="79.7" cy="90.6" r="4.3"/>
<circle cx="78.8" cy="82.4" r="4.3"/>
<circle cx="87.9" cy="94.4" r="4.8"/>
<circle cx="94.6" cy="99.2" r="3.8"/>
<circle cx="90.8" cy="106.0" r="4.3"/>
<circle cx="85.2" cy="110.3" r="2.9"/>
<circle cx="94.1" cy="114.1" r="5.8"/>
<circle cx="81.2" cy="117.0" r="3.8"/>
<circle cx="87.9" cy="124.7" r="2.9"/>
<circle cx="103.3" cy="109.8" r="5.3"/>
<circle cx="99.4" cy="100.2" r="2.9"/>
<circle cx="124.5" cy="85.3" r="4.8"/>
<circle cx="134.6" cy="90.1" r="2.9"/>
<circle cx="119.7" cy="97.3" r="5.0"/>
<circle cx="111.1" cy="107.4" r="4.1"/>
<circle cx="107.7" cy="96.8" r="4.3"/>
<circle cx="99.5" cy="56.8" r="3.9"/>
<circle cx="105.4" cy="56.9" r="4.8"/>
<circle cx="112.8" cy="55.2" r="4.6"/>
<circle cx="94.9" cy="61.2" r="5.2"/>
<circle cx="102.5" cy="60.9" r="5.0"/>
<circle cx="107.8" cy="61.8" r="4.1"/>
<circle cx="114.0" cy="62.3" r="4.2"/>
<circle cx="120.9" cy="62.6" r="5.1"/>
<circle cx="85.6" cy="68.1" r="4.7"/>
<circle cx="92.9" cy="66.6" r="5.2"/>
<circle cx="99.4" cy="68.1" r="5.2"/>
<circle cx="105.1" cy="66.9" r="4.1"/>
<circle cx="111.3" cy="66.3" r="4.3"/>
<circle cx="118.7" cy="66.2" r="4.8"/>
<circle cx="88.7" cy="72.4" r="5.0"/>
<circle cx="95.5" cy="72.4" r="4.6"/>
<circle cx="102.4" cy="71.9" r="5.3"/>
<circle cx="107.5" cy="73.3" r="5.1"/>
<circle cx="114.0" cy="73.4" r="4.4"/>
<circle cx="121.7" cy="71.8" r="4.0"/>
<circle cx="85.4" cy="79.3" r="4.2"/>
<circle cx="93.0" cy="79.3" r="5.2"/>
<circle cx="98.7" cy="78.1" r="4.6"/>
<circle cx="106.1" cy="77.6" r="4.9"/>
<circle cx="112.6" cy="79.1" r="4.0"/>
<circle cx="119.4" cy="77.6" r="4.4"/>
<circle cx="89.2" cy="84.8" r="4.4"/>
<circle cx="96.3" cy="84.1" r="4.3"/>
<circle cx="101.6" cy="83.4" r="4.0"/>
<circle cx="107.8" cy="84.4" r="5.3"/>
<circle cx="114.3" cy="83.1" r="5.3"/>
<circle cx="121.6" cy="83.8" r="4.2"/>
<circle cx="92.4" cy="89.4" r="4.0"/>
<circle cx="99.8" cy="88.7" r="4.6"/>
<circle cx="106.2" cy="88.9" r="4.9"/>
<circle cx="112.9" cy="89.9" r="5.0"/>
<circle cx="117.7" cy="89.5" r="4.1"/>
<circle cx="102.7" cy="96.2" r="4.5"/>
<circle cx="108.5" cy="95.7" r="4.6"/>
<circle cx="114.6" cy="95.0" r="4.1"/>
<circle cx="86.0" cy="66.0" r="4.8"/>
<circle cx="92.0" cy="60.0" r="4.4"/>
<circle cx="100.0" cy="56.0" r="4.2"/>
<circle cx="108.0" cy="52.0" r="4.0"/>
<circle cx="116.0" cy="53.0" r="3.6"/>
<circle cx="119.0" cy="58.0" r="3.9"/>
<circle cx="123.0" cy="63.0" r="4.6"/>
<circle cx="123.0" cy="72.0" r="4.7"/>
<circle cx="124.0" cy="80.0" r="4.0"/>
<circle cx="122.0" cy="88.0" r="4.6"/>
<circle cx="118.0" cy="94.0" r="4.6"/>
<circle cx="112.0" cy="99.0" r="4.5"/>
<circle cx="105.0" cy="100.0" r="4.4"/>
<circle cx="97.0" cy="97.0" r="4.6"/>
<circle cx="90.0" cy="93.0" r="4.0"/>
<circle cx="86.0" cy="86.0" r="4.5"/>
<circle cx="84.0" cy="78.0" r="3.9"/>
<circle cx="85.0" cy="71.0" r="4.2"/>
</g>
<g fill="#769ccf">
<circle cx="182.1" cy="45.6" r="3.3"/>
<circle cx="200.4" cy="41.7" r="3.1"/>
<circle cx="213.8" cy="54.6" r="5.3"/>
<circle cx="195.0" cy="60.4" r="6.1"/>
<circle cx="181.2" cy="69.2" r="3.1"/>
<circle cx="192.3" cy="72.5" r="3.8"/>
<circle cx="203.8" cy="73.8" r="3.1"/>
<circle cx="183.5" cy="82.1" r="3.1"/>
<circle cx="196.2" cy="84.6" r="3.3"/>
</g>
<circle cx="102.8" cy="164.9" r="3.5" fill="#769ccf"/>
<g stroke="#a49a90" stroke-width="1.1" stroke-linecap="round"><line x1="102.3" y1="90.4" x2="98" y2="82.7"/><line x1="102.3" y1="90.4" x2="107.1" y2="91.3"/><line x1="102.3" y1="90.4" x2="101.3" y2="95.2"/></g>
<circle cx="104.7" cy="68.7" r="1.4" fill="#9a9a9a"/>
<circle cx="119.2" cy="83" r="1.4" fill="#9a9a9a"/>
<circle cx="102.3" cy="90.6" r="1.3" fill="#9a9a9a"/>
<circle cx="85" cy="86.3" r="1.0" fill="#9a9a9a"/>
<circle cx="98" cy="103.5" r="0.9" fill="#9a9a9a"/>
<ellipse cx="98" cy="83.5" rx="50.9" ry="41.2" transform="rotate(-45 98 83.5)" fill="none" stroke="#2d4d7a" stroke-width="1.15" stroke-linecap="round" stroke-dasharray="0.01 1.9"/>
<ellipse cx="195.8" cy="62.4" rx="25.0" ry="33.2" transform="rotate(0 195.8 62.4)" fill="none" stroke="#2d4d7a" stroke-width="1.15" stroke-linecap="round" stroke-dasharray="0.01 1.9"/>
<ellipse cx="146.5" cy="114.6" rx="18" ry="17.7" transform="rotate(0 146.5 114.6)" fill="none" stroke="#2d4d7a" stroke-width="1.15" stroke-linecap="round" stroke-dasharray="0.01 1.9"/>
<ellipse cx="186" cy="135.5" rx="20.7" ry="18.7" transform="rotate(0 186 135.5)" fill="none" stroke="#2d4d7a" stroke-width="1.15" stroke-linecap="round" stroke-dasharray="0.01 1.9"/>
<ellipse cx="133" cy="171.3" rx="42" ry="34" transform="rotate(8 133 171.3)" fill="none" stroke="#2d4d7a" stroke-width="1.15" stroke-linecap="round" stroke-dasharray="0.01 1.9"/>
<ellipse cx="50.6" cy="187.7" rx="31" ry="40.5" transform="rotate(-12 50.6 187.7)" fill="none" stroke="#2d4d7a" stroke-width="1.15" stroke-linecap="round" stroke-dasharray="0.01 1.9"/>
<ellipse cx="100.8" cy="220.9" rx="22.7" ry="22.9" transform="rotate(0 100.8 220.9)" fill="none" stroke="#2d4d7a" stroke-width="1.15" stroke-linecap="round" stroke-dasharray="0.01 1.9"/>
<ellipse cx="176.3" cy="218.5" rx="27" ry="27.5" transform="rotate(0 176.3 218.5)" fill="none" stroke="#2d4d7a" stroke-width="1.15" stroke-linecap="round" stroke-dasharray="0.01 1.9"/>
<ellipse cx="133.9" cy="259.6" rx="26" ry="30.8" transform="rotate(0 133.9 259.6)" fill="none" stroke="#2d4d7a" stroke-width="1.15" stroke-linecap="round" stroke-dasharray="0.01 1.9"/>
<text x="313.80" y="16.70" font-size="11" text-anchor="start" fill="#000" stroke="#000" stroke-width="0.15" textLength="7.00" lengthAdjust="spacingAndGlyphs" >C</text>
<g>
<rect x="333.40" y="35.20" width="21.40" height="5.24" fill="#d9736b"/>
<rect x="354.80" y="35.20" width="20.80" height="5.24" fill="#db7a72"/>
<rect x="375.60" y="35.20" width="20.60" height="5.24" fill="#d9736b"/>
<rect x="333.40" y="40.44" width="21.40" height="5.24" fill="#d87068"/>
<rect x="354.80" y="40.44" width="20.80" height="5.24" fill="#d87068"/>
<rect x="375.60" y="40.44" width="20.60" height="5.24" fill="#db7a72"/>
<rect x="333.40" y="45.67" width="21.40" height="5.24" fill="#d9736b"/>
<rect x="354.80" y="45.67" width="20.80" height="5.24" fill="#e4968f"/>
<rect x="375.60" y="45.67" width="20.60" height="5.24" fill="#d9736b"/>
<rect x="333.40" y="50.91" width="21.40" height="5.24" fill="#de847c"/>
<rect x="354.80" y="50.91" width="20.80" height="5.24" fill="#e4968f"/>
<rect x="375.60" y="50.91" width="20.60" height="5.24" fill="#da766e"/>
<rect x="333.40" y="56.14" width="21.40" height="5.24" fill="#e08b84"/>
<rect x="354.80" y="56.14" width="20.80" height="5.24" fill="#e8aba5"/>
<rect x="375.60" y="56.14" width="20.60" height="5.24" fill="#d9736b"/>
<rect x="333.40" y="61.38" width="21.40" height="5.24" fill="#df8780"/>
<rect x="354.80" y="61.38" width="20.80" height="5.24" fill="#e3928b"/>
<rect x="375.60" y="61.38" width="20.60" height="5.24" fill="#d87068"/>
<rect x="333.40" y="66.62" width="21.40" height="5.24" fill="#df8780"/>
<rect x="354.80" y="66.62" width="20.80" height="5.24" fill="#e4968f"/>
<rect x="375.60" y="66.62" width="20.60" height="5.24" fill="#d87068"/>
<rect x="333.40" y="71.85" width="21.40" height="5.24" fill="#df8780"/>
<rect x="354.80" y="71.85" width="20.80" height="5.24" fill="#e6a09a"/>
<rect x="375.60" y="71.85" width="20.60" height="5.24" fill="#d87068"/>
<rect x="333.40" y="77.09" width="21.40" height="5.24" fill="#e8aba5"/>
<rect x="354.80" y="77.09" width="20.80" height="5.24" fill="#dc7d76"/>
<rect x="375.60" y="77.09" width="20.60" height="5.24" fill="#de847c"/>
<rect x="333.40" y="82.32" width="21.40" height="5.24" fill="#de847c"/>
<rect x="354.80" y="82.32" width="20.80" height="5.24" fill="#da766e"/>
<rect x="375.60" y="82.32" width="20.60" height="5.24" fill="#df8780"/>
<rect x="333.40" y="87.56" width="21.40" height="5.24" fill="#df8780"/>
<rect x="354.80" y="87.56" width="20.80" height="5.24" fill="#df8780"/>
<rect x="375.60" y="87.56" width="20.60" height="5.24" fill="#df8780"/>
<rect x="333.40" y="92.79" width="21.40" height="5.24" fill="#e08b84"/>
<rect x="354.80" y="92.79" width="20.80" height="5.24" fill="#e08b84"/>
<rect x="375.60" y="92.79" width="20.60" height="5.24" fill="#e08b84"/>
<rect x="333.40" y="98.03" width="21.40" height="5.24" fill="#2f6292"/>
<rect x="354.80" y="98.03" width="20.80" height="5.24" fill="#8ea8c9"/>
<rect x="375.60" y="98.03" width="20.60" height="5.24" fill="#2f6292"/>
<rect x="333.40" y="103.27" width="21.40" height="5.24" fill="#376999"/>
<rect x="354.80" y="103.27" width="20.80" height="5.24" fill="#87a3c6"/>
<rect x="375.60" y="103.27" width="20.60" height="5.24" fill="#3c6d9c"/>
<rect x="333.40" y="108.50" width="21.40" height="5.24" fill="#40719f"/>
<rect x="354.80" y="108.50" width="20.80" height="5.24" fill="#648bb4"/>
<rect x="375.60" y="108.50" width="20.60" height="5.24" fill="#285a8a"/>
<rect x="333.40" y="113.74" width="21.40" height="5.24" fill="#4878a6"/>
<rect x="354.80" y="113.74" width="20.80" height="5.24" fill="#87a3c6"/>
<rect x="375.60" y="113.74" width="20.60" height="5.24" fill="#2b5d8d"/>
<rect x="333.40" y="118.97" width="21.40" height="5.24" fill="#4878a6"/>
<rect x="354.80" y="118.97" width="20.80" height="5.24" fill="#799abe"/>
<rect x="375.60" y="118.97" width="20.60" height="5.24" fill="#5682ad"/>
<rect x="333.40" y="124.21" width="21.40" height="5.24" fill="#4474a3"/>
<rect x="354.80" y="124.21" width="20.80" height="5.24" fill="#7295bb"/>
<rect x="375.60" y="124.21" width="20.60" height="5.24" fill="#5d86b0"/>
<rect x="333.40" y="129.45" width="21.40" height="5.24" fill="#3c6d9c"/>
<rect x="354.80" y="129.45" width="20.80" height="5.24" fill="#6b90b8"/>
<rect x="375.60" y="129.45" width="20.60" height="5.24" fill="#5d86b0"/>
<rect x="333.40" y="134.68" width="21.40" height="5.24" fill="#4878a6"/>
<rect x="354.80" y="134.68" width="20.80" height="5.24" fill="#7295bb"/>
<rect x="375.60" y="134.68" width="20.60" height="5.24" fill="#5d86b0"/>
<rect x="333.40" y="139.92" width="21.40" height="5.24" fill="#4878a6"/>
<rect x="354.80" y="139.92" width="20.80" height="5.24" fill="#648bb4"/>
<rect x="375.60" y="139.92" width="20.60" height="5.24" fill="#5682ad"/>
<rect x="333.40" y="145.15" width="21.40" height="5.24" fill="#4878a6"/>
<rect x="354.80" y="145.15" width="20.80" height="5.24" fill="#6b90b8"/>
<rect x="375.60" y="145.15" width="20.60" height="5.24" fill="#4878a6"/>
<rect x="333.40" y="150.39" width="21.40" height="5.24" fill="#40719f"/>
<rect x="354.80" y="150.39" width="20.80" height="5.24" fill="#7295bb"/>
<rect x="375.60" y="150.39" width="20.60" height="5.24" fill="#5682ad"/>
<rect x="333.40" y="155.63" width="21.40" height="5.24" fill="#4878a6"/>
<rect x="354.80" y="155.63" width="20.80" height="5.24" fill="#95adcc"/>
<rect x="375.60" y="155.63" width="20.60" height="5.24" fill="#3c6d9c"/>
<rect x="333.40" y="160.86" width="21.40" height="5.24" fill="#3c6d9c"/>
<rect x="354.80" y="160.86" width="20.80" height="5.24" fill="#8ea8c9"/>
<rect x="375.60" y="160.86" width="20.60" height="5.24" fill="#5d86b0"/>
<rect x="333.40" y="166.10" width="21.40" height="5.24" fill="#3c6d9c"/>
<rect x="354.80" y="166.10" width="20.80" height="5.24" fill="#95adcc"/>
<rect x="375.60" y="166.10" width="20.60" height="5.24" fill="#4878a6"/>
<rect x="333.40" y="171.33" width="21.40" height="5.24" fill="#799abe"/>
<rect x="354.80" y="171.33" width="20.80" height="5.24" fill="#4474a3"/>
<rect x="375.60" y="171.33" width="20.60" height="5.24" fill="#4f7daa"/>
<rect x="333.40" y="176.57" width="21.40" height="5.24" fill="#8ea8c9"/>
<rect x="354.80" y="176.57" width="20.80" height="5.24" fill="#4f7daa"/>
<rect x="375.60" y="176.57" width="20.60" height="5.24" fill="#6b90b8"/>
<rect x="333.40" y="181.81" width="21.40" height="5.24" fill="#376999"/>
<rect x="354.80" y="181.81" width="20.80" height="5.24" fill="#4474a3"/>
<rect x="375.60" y="181.81" width="20.60" height="5.24" fill="#8ea8c9"/>
<rect x="333.40" y="187.04" width="21.40" height="5.24" fill="#336695"/>
<rect x="354.80" y="187.04" width="20.80" height="5.24" fill="#4474a3"/>
<rect x="375.60" y="187.04" width="20.60" height="5.24" fill="#799abe"/>
<rect x="333.40" y="192.28" width="21.40" height="5.24" fill="#40719f"/>
<rect x="354.80" y="192.28" width="20.80" height="5.24" fill="#4474a3"/>
<rect x="375.60" y="192.28" width="20.60" height="5.24" fill="#799abe"/>
<rect x="333.40" y="197.51" width="21.40" height="5.24" fill="#40719f"/>
<rect x="354.80" y="197.51" width="20.80" height="5.24" fill="#7295bb"/>
<rect x="375.60" y="197.51" width="20.60" height="5.24" fill="#809ec2"/>
<rect x="333.40" y="202.75" width="21.40" height="5.24" fill="#4878a6"/>
<rect x="354.80" y="202.75" width="20.80" height="5.24" fill="#376999"/>
<rect x="375.60" y="202.75" width="20.60" height="5.24" fill="#3c6d9c"/>
<rect x="333.40" y="207.98" width="21.40" height="5.24" fill="#376999"/>
<rect x="354.80" y="207.98" width="20.80" height="5.24" fill="#40719f"/>
<rect x="375.60" y="207.98" width="20.60" height="5.24" fill="#2b5d8d"/>
<rect x="333.40" y="213.22" width="21.40" height="5.24" fill="#336695"/>
<rect x="354.80" y="213.22" width="20.80" height="5.24" fill="#4878a6"/>
<rect x="375.60" y="213.22" width="20.60" height="5.24" fill="#40719f"/>
<rect x="333.40" y="218.46" width="21.40" height="5.24" fill="#4878a6"/>
<rect x="354.80" y="218.46" width="20.80" height="5.24" fill="#4f7daa"/>
<rect x="375.60" y="218.46" width="20.60" height="5.24" fill="#4f7daa"/>
<rect x="333.40" y="223.69" width="21.40" height="5.24" fill="#4878a6"/>
<rect x="354.80" y="223.69" width="20.80" height="5.24" fill="#5682ad"/>
<rect x="375.60" y="223.69" width="20.60" height="5.24" fill="#4f7daa"/>
<rect x="333.40" y="228.93" width="21.40" height="5.24" fill="#40719f"/>
<rect x="354.80" y="228.93" width="20.80" height="5.24" fill="#4f7daa"/>
<rect x="375.60" y="228.93" width="20.60" height="5.24" fill="#4f7daa"/>
<rect x="333.40" y="234.16" width="21.40" height="5.24" fill="#40719f"/>
<rect x="354.80" y="234.16" width="20.80" height="5.24" fill="#5682ad"/>
<rect x="375.60" y="234.16" width="20.60" height="5.24" fill="#6b90b8"/>
</g>
<g stroke="#fff" stroke-width="0.5">
<line x1="333.4" y1="40.44" x2="396.2" y2="40.44"/>
<line x1="333.4" y1="45.67" x2="396.2" y2="45.67"/>
<line x1="333.4" y1="50.91" x2="396.2" y2="50.91"/>
<line x1="333.4" y1="56.14" x2="396.2" y2="56.14"/>
<line x1="333.4" y1="61.38" x2="396.2" y2="61.38"/>
<line x1="333.4" y1="66.62" x2="396.2" y2="66.62"/>
<line x1="333.4" y1="71.85" x2="396.2" y2="71.85"/>
<line x1="333.4" y1="77.09" x2="396.2" y2="77.09"/>
<line x1="333.4" y1="82.32" x2="396.2" y2="82.32"/>
<line x1="333.4" y1="87.56" x2="396.2" y2="87.56"/>
<line x1="333.4" y1="92.79" x2="396.2" y2="92.79"/>
<line x1="333.4" y1="98.03" x2="396.2" y2="98.03"/>
<line x1="333.4" y1="103.27" x2="396.2" y2="103.27"/>
<line x1="333.4" y1="108.50" x2="396.2" y2="108.50"/>
<line x1="333.4" y1="113.74" x2="396.2" y2="113.74"/>
<line x1="333.4" y1="118.97" x2="396.2" y2="118.97"/>
<line x1="333.4" y1="124.21" x2="396.2" y2="124.21"/>
<line x1="333.4" y1="129.45" x2="396.2" y2="129.45"/>
<line x1="333.4" y1="134.68" x2="396.2" y2="134.68"/>
<line x1="333.4" y1="139.92" x2="396.2" y2="139.92"/>
<line x1="333.4" y1="145.15" x2="396.2" y2="145.15"/>
<line x1="333.4" y1="150.39" x2="396.2" y2="150.39"/>
<line x1="333.4" y1="155.63" x2="396.2" y2="155.63"/>
<line x1="333.4" y1="160.86" x2="396.2" y2="160.86"/>
<line x1="333.4" y1="166.10" x2="396.2" y2="166.10"/>
<line x1="333.4" y1="171.33" x2="396.2" y2="171.33"/>
<line x1="333.4" y1="176.57" x2="396.2" y2="176.57"/>
<line x1="333.4" y1="181.81" x2="396.2" y2="181.81"/>
<line x1="333.4" y1="187.04" x2="396.2" y2="187.04"/>
<line x1="333.4" y1="192.28" x2="396.2" y2="192.28"/>
<line x1="333.4" y1="197.51" x2="396.2" y2="197.51"/>
<line x1="333.4" y1="202.75" x2="396.2" y2="202.75"/>
<line x1="333.4" y1="207.98" x2="396.2" y2="207.98"/>
<line x1="333.4" y1="213.22" x2="396.2" y2="213.22"/>
<line x1="333.4" y1="218.46" x2="396.2" y2="218.46"/>
<line x1="333.4" y1="223.69" x2="396.2" y2="223.69"/>
<line x1="333.4" y1="228.93" x2="396.2" y2="228.93"/>
<line x1="333.4" y1="234.16" x2="396.2" y2="234.16"/>
</g>
<g stroke="#fff" stroke-width="0.9">
<line x1="354.8" y1="35.2" x2="354.8" y2="239.4"/>
<line x1="375.6" y1="35.2" x2="375.6" y2="239.4"/>
</g>
<text x="398.8" y="39.62" font-size="5.2" fill="#1a1a1a" textLength="29.6" lengthAdjust="spacingAndGlyphs">UP in ov-E2F1</text>
<text x="398.8" y="44.85" font-size="5.2" fill="#1a1a1a" textLength="31.4" lengthAdjust="spacingAndGlyphs">DN in si-RPS14</text>
<text x="398.8" y="50.09" font-size="5.2" fill="#1a1a1a" textLength="52.3" lengthAdjust="spacingAndGlyphs">UP in reponse to serum</text>
<text x="398.8" y="55.33" font-size="5.2" fill="#1a1a1a" textLength="23.8" lengthAdjust="spacingAndGlyphs">UP in si-RB</text>
<text x="398.8" y="60.56" font-size="5.2" fill="#1a1a1a" textLength="70.1" lengthAdjust="spacingAndGlyphs">UP in long-term SHH stimulation</text>
<text x="398.8" y="65.80" font-size="5.2" fill="#1a1a1a" textLength="29.9" lengthAdjust="spacingAndGlyphs">DN in ov-LTE2</text>
<text x="398.8" y="71.03" font-size="5.2" fill="#1a1a1a" textLength="71.8" lengthAdjust="spacingAndGlyphs">UP in short-term SHH stimulation</text>
<text x="398.8" y="76.27" font-size="5.2" fill="#1a1a1a" textLength="34.0" lengthAdjust="spacingAndGlyphs">DN in ov-VEGFA</text>
<text x="398.8" y="81.51" font-size="5.2" fill="#1a1a1a" textLength="31.3" lengthAdjust="spacingAndGlyphs">UP in ov-cAMP</text>
<text x="398.8" y="86.74" font-size="5.2" fill="#1a1a1a" textLength="28.9" lengthAdjust="spacingAndGlyphs">UP in ov-MYC</text>
<text x="398.8" y="91.98" font-size="5.2" fill="#1a1a1a" textLength="32.0" lengthAdjust="spacingAndGlyphs">UP in ov-MTOR</text>
<text x="398.8" y="97.21" font-size="5.2" fill="#1a1a1a" textLength="28.9" lengthAdjust="spacingAndGlyphs">DN in si-EZH2</text>
<text x="398.8" y="102.45" font-size="5.2" fill="#1a1a1a" textLength="33.4" lengthAdjust="spacingAndGlyphs">UP in ov-ERBB2</text>
<text x="398.8" y="107.68" font-size="5.2" fill="#1a1a1a" textLength="36.1" lengthAdjust="spacingAndGlyphs">UP in ov-MAP2K1</text>
<text x="398.8" y="112.92" font-size="5.2" fill="#1a1a1a" textLength="44.0" lengthAdjust="spacingAndGlyphs">UP in active CTNNB1</text>
<text x="398.8" y="118.16" font-size="5.2" fill="#1a1a1a" textLength="33.8" lengthAdjust="spacingAndGlyphs">UP in ov-VEGFA</text>
<text x="398.8" y="123.39" font-size="5.2" fill="#1a1a1a" textLength="40.3" lengthAdjust="spacingAndGlyphs">DN in JNK-inhibitor</text>
<text x="398.8" y="128.63" font-size="5.2" fill="#1a1a1a" textLength="29.9" lengthAdjust="spacingAndGlyphs">DN in ov-E2F1</text>
<text x="398.8" y="133.86" font-size="5.2" fill="#1a1a1a" textLength="31.0" lengthAdjust="spacingAndGlyphs">DN in si-STK33</text>
<text x="398.8" y="139.10" font-size="5.2" fill="#1a1a1a" textLength="31.3" lengthAdjust="spacingAndGlyphs">UP in ov-EGFR</text>
<text x="398.8" y="144.34" font-size="5.2" fill="#1a1a1a" textLength="25.7" lengthAdjust="spacingAndGlyphs">DN in ov-IL2</text>
<text x="398.8" y="149.57" font-size="5.2" fill="#1a1a1a" textLength="31.3" lengthAdjust="spacingAndGlyphs">DN in ov-KRAS</text>
<text x="398.8" y="154.81" font-size="5.2" fill="#1a1a1a" textLength="28.9" lengthAdjust="spacingAndGlyphs">DN in si-SNF5</text>
<text x="398.8" y="160.04" font-size="5.2" fill="#1a1a1a" textLength="30.1" lengthAdjust="spacingAndGlyphs">DN in ov-ATF2</text>
<text x="398.8" y="165.28" font-size="5.2" fill="#1a1a1a" textLength="60.6" lengthAdjust="spacingAndGlyphs">UP during late stage of ESC</text>
<text x="398.8" y="170.52" font-size="5.2" fill="#1a1a1a" textLength="63.6" lengthAdjust="spacingAndGlyphs">DN during early stage of ESC</text>
<text x="398.8" y="175.75" font-size="5.2" fill="#1a1a1a" textLength="32.1" lengthAdjust="spacingAndGlyphs">UP in si-HOXA9</text>
<text x="398.8" y="180.99" font-size="5.2" fill="#1a1a1a" textLength="31.3" lengthAdjust="spacingAndGlyphs">DN in ov-KRAS</text>
<text x="398.8" y="186.22" font-size="5.2" fill="#1a1a1a" textLength="32.2" lengthAdjust="spacingAndGlyphs">DN in ov-MTOR</text>
<text x="398.8" y="191.46" font-size="5.2" fill="#1a1a1a" textLength="28.0" lengthAdjust="spacingAndGlyphs">UP in ov-RAF</text>
<text x="398.8" y="196.69" font-size="5.2" fill="#1a1a1a" textLength="40.0" lengthAdjust="spacingAndGlyphs">UP in JNK-inhibitor</text>
<text x="398.8" y="201.93" font-size="5.2" fill="#1a1a1a" textLength="30.7" lengthAdjust="spacingAndGlyphs">UP in si-STK33</text>
<text x="398.8" y="207.17" font-size="5.2" fill="#1a1a1a" textLength="25.4" lengthAdjust="spacingAndGlyphs">UP in si-P53</text>
<text x="398.8" y="212.40" font-size="5.2" fill="#1a1a1a" textLength="31.2" lengthAdjust="spacingAndGlyphs">UP in si-RPS14</text>
<text x="398.8" y="217.64" font-size="5.2" fill="#1a1a1a" textLength="30.1" lengthAdjust="spacingAndGlyphs">DN in ov-ATF2</text>
<text x="398.8" y="222.87" font-size="5.2" fill="#1a1a1a" textLength="60.6" lengthAdjust="spacingAndGlyphs">UP during late stage of ESC</text>
<text x="398.8" y="228.11" font-size="5.2" fill="#1a1a1a" textLength="29.1" lengthAdjust="spacingAndGlyphs">DN in si-RELA</text>
<text x="398.8" y="233.35" font-size="5.2" fill="#1a1a1a" textLength="31.3" lengthAdjust="spacingAndGlyphs">DN in ov-KRAS</text>
<text x="398.8" y="238.58" font-size="5.2" fill="#1a1a1a" textLength="31.0" lengthAdjust="spacingAndGlyphs">DN in si-STK33</text>
<text x="343.6" y="247" font-size="5.4" text-anchor="middle" fill="#222" stroke="#222" stroke-width="0.1" textLength="12" lengthAdjust="spacingAndGlyphs">MPP3</text>
<text x="364.8" y="247" font-size="5.4" text-anchor="middle" fill="#222" stroke="#222" stroke-width="0.1" textLength="14" lengthAdjust="spacingAndGlyphs">LTHSC</text>
<text x="385.6" y="247" font-size="5.4" text-anchor="middle" fill="#222" stroke="#222" stroke-width="0.1" textLength="12" lengthAdjust="spacingAndGlyphs">MPP2</text>
<g stroke="#3a3a3a" stroke-width="0.75" fill="none">
<line x1="314.2" y1="59.2" x2="330" y2="59.2"/>
<line x1="313.8" y1="159.2" x2="329.8" y2="159.2"/>
<path d="M333.2 36 L331.6 40 L330.4 46 L329.6 51 V68 L330.4 75 L331.6 86 L333.2 97 M331 42 V50 M331 70 V82 M332.3 88 V95" stroke="#3c3c3c" stroke-width="0.7" fill="none"/>
<path d="M333.2 99 L331.8 108 L330.6 118 L329.6 128 V198 L330.6 210 L331.8 225 L333.2 238 M331.1 130 V190 M332.2 102 V116 M332.2 212 V234" stroke="#3c3c3c" stroke-width="0.7" fill="none"/>
</g>
<defs><linearGradient id="cb" x1="0" y1="0" x2="0" y2="1"><stop offset="0" stop-color="#d2645c"/><stop offset="0.25" stop-color="#e29a93"/><stop offset="0.5" stop-color="#f7f7f7"/><stop offset="0.75" stop-color="#86a3c6"/><stop offset="1" stop-color="#265888"/></linearGradient></defs>
<rect x="484.9" y="37.1" width="5.5" height="83.2" fill="url(#cb)"/>
<text x="493" y="45.9" font-size="5" fill="#333">1.5</text>
<text x="493" y="57.9" font-size="5" fill="#333">1</text>
<text x="493" y="69.8" font-size="5" fill="#333">0.5</text>
<text x="493" y="80.9" font-size="5" fill="#333">0</text>
<text x="493" y="93.6" font-size="5" fill="#333">-0.5</text>
<text x="493" y="105.8" font-size="5" fill="#333">-1</text>
<text x="493" y="117.8" font-size="5" fill="#333">-1.5</text>
<text transform="translate(506.8 26) rotate(90)" x="0" y="0" font-size="7" fill="#111" stroke="#111" stroke-width="0.15" textLength="107.5" lengthAdjust="spacingAndGlyphs">Normalized enrichment score (NES)</text>
<text x="7.00" y="315.80" font-size="11" text-anchor="start" fill="#000" stroke="#000" stroke-width="0.2" textLength="6.20" lengthAdjust="spacingAndGlyphs" >B</text>
<text x="127.00" y="316.80" font-size="10.0" text-anchor="middle" fill="#000" stroke="#000" stroke-width="0.06" textLength="22.30" lengthAdjust="spacingAndGlyphs" >MPP3</text>
<g stroke="#222" stroke-width="0.9" fill="none">
<line x1="50.5" y1="325" x2="50.5" y2="486.5" stroke-width="1.25"/>
<line x1="49.9" y1="485.9" x2="199.5" y2="485.9" stroke-width="1.35"/>
<line x1="50.5" y1="436.5" x2="216.9" y2="436.5" stroke-width="1.1"/>
<line x1="47.5" y1="327" x2="50.5" y2="327"/>
<line x1="47.5" y1="349.25" x2="50.5" y2="349.25"/>
<line x1="47.5" y1="371.25" x2="50.5" y2="371.25"/>
<line x1="47.5" y1="393" x2="50.5" y2="393"/>
<line x1="47.5" y1="414.75" x2="50.5" y2="414.75"/>
<line x1="47.5" y1="436.5" x2="50.5" y2="436.5"/>
<line x1="47.5" y1="458.25" x2="50.5" y2="458.25"/>
<line x1="47.5" y1="480" x2="50.5" y2="480"/>
<line x1="56.7" y1="485.9" x2="56.7" y2="488.7"/>
<line x1="91.5" y1="485.9" x2="91.5" y2="488.7"/>
<line x1="126.5" y1="485.9" x2="126.5" y2="488.7"/>
<line x1="161.5" y1="485.9" x2="161.5" y2="488.7"/>
<line x1="196.4" y1="485.9" x2="196.4" y2="488.7"/>
</g>
<text x="44.6" y="329.50" font-size="7" text-anchor="end" fill="#111" stroke="#111" stroke-width="0.15">0.5</text>
<text x="44.6" y="351.75" font-size="7" text-anchor="end" fill="#111" stroke="#111" stroke-width="0.15">0.4</text>
<text x="44.6" y="373.75" font-size="7" text-anchor="end" fill="#111" stroke="#111" stroke-width="0.15">0.3</text>
<text x="44.6" y="395.50" font-size="7" text-anchor="end" fill="#111" stroke="#111" stroke-width="0.15">0.2</text>
<text x="44.6" y="417.25" font-size="7" text-anchor="end" fill="#111" stroke="#111" stroke-width="0.15">0.1</text>
<text x="44.6" y="439.00" font-size="7" text-anchor="end" fill="#111" stroke="#111" stroke-width="0.15">0.0</text>
<text x="44.6" y="460.75" font-size="7" text-anchor="end" fill="#111" stroke="#111" stroke-width="0.15">-0.1</text>
<text x="44.6" y="482.50" font-size="7" text-anchor="end" fill="#111" stroke="#111" stroke-width="0.15">-0.2</text>
<text x="56.7" y="498.5" font-size="7" text-anchor="middle" fill="#111" stroke="#111" stroke-width="0.15">0</text>
<text x="91.5" y="498.5" font-size="7" text-anchor="middle" fill="#111" stroke="#111" stroke-width="0.15">5000</text>
<text x="126.5" y="498.5" font-size="7" text-anchor="middle" fill="#111" stroke="#111" stroke-width="0.15">10000</text>
<text x="161.5" y="498.5" font-size="7" text-anchor="middle" fill="#111" stroke="#111" stroke-width="0.15">15000</text>
<text x="196.4" y="498.5" font-size="7" text-anchor="middle" fill="#111" stroke="#111" stroke-width="0.15">20000</text>
<text x="126.50" y="511.80" font-size="9.7" text-anchor="middle" fill="#000" stroke="#000" stroke-width="0.18" textLength="64.00" lengthAdjust="spacingAndGlyphs" >Rank in gene list</text>
<text transform="translate(27.8 403.5) rotate(-90)" x="0" y="0" font-size="10.1" text-anchor="middle" fill="#111" stroke="#111" stroke-width="0.2" textLength="103.8" lengthAdjust="spacingAndGlyphs">Running enrichment score</text>
<circle cx="82.5" cy="331.3" r="1.75" fill="#a2303f"/><circle cx="82.5" cy="340.5" r="1.75" fill="#3e5a85"/>
<text x="87.00" y="333.90" font-size="7.4" text-anchor="start" fill="#000" stroke="#000" stroke-width="0.18" textLength="64.00" lengthAdjust="spacingAndGlyphs" >Cell cycle checkpoint</text>
<text x="87.00" y="343.10" font-size="7.4" text-anchor="start" fill="#000" stroke="#000" stroke-width="0.18" textLength="106.00" lengthAdjust="spacingAndGlyphs" >Antigen processing &amp; presentation</text>
<text x="68.00" y="449.50" font-size="7.1" text-anchor="start" fill="#000" stroke="#000" stroke-width="0.18" textLength="33.30" lengthAdjust="spacingAndGlyphs" >All p &lt; 0.05</text>
<line x1="80.05" y1="350.9" x2="80.05" y2="436.5" stroke="#a2303f" stroke-width="1.05" stroke-dasharray="3.1 2.0"/>
<line x1="90.4" y1="376.4" x2="90.4" y2="436.5" stroke="#3e5a85" stroke-width="1.05" stroke-dasharray="3.1 2.0"/>
<g fill="#a2303f">
<circle cx="57.07" cy="428.85" r="1.95"/>
<circle cx="55.16" cy="425.08" r="1.95"/>
<circle cx="56.44" cy="424.18" r="1.95"/>
<circle cx="55.92" cy="421.24" r="1.95"/>
<circle cx="55.80" cy="421.80" r="1.95"/>
<circle cx="56.07" cy="419.13" r="1.95"/>
<circle cx="56.10" cy="417.76" r="1.95"/>
<circle cx="56.97" cy="417.09" r="1.95"/>
<circle cx="57.72" cy="414.42" r="1.95"/>
<circle cx="57.08" cy="412.08" r="1.95"/>
<circle cx="56.62" cy="409.80" r="1.95"/>
<circle cx="57.43" cy="410.36" r="1.95"/>
<circle cx="57.42" cy="409.61" r="1.95"/>
<circle cx="57.85" cy="407.15" r="1.95"/>
<circle cx="57.45" cy="404.30" r="1.95"/>
<circle cx="57.77" cy="402.68" r="1.95"/>
<circle cx="58.27" cy="402.48" r="1.95"/>
<circle cx="58.73" cy="399.10" r="1.95"/>
<circle cx="59.15" cy="400.26" r="1.95"/>
<circle cx="59.03" cy="398.65" r="1.95"/>
<circle cx="59.26" cy="396.61" r="1.95"/>
<circle cx="58.66" cy="395.15" r="1.95"/>
<circle cx="60.00" cy="391.78" r="1.95"/>
<circle cx="59.78" cy="391.01" r="1.95"/>
<circle cx="59.23" cy="390.66" r="1.95"/>
<circle cx="59.73" cy="389.58" r="1.95"/>
<circle cx="60.20" cy="387.58" r="1.95"/>
<circle cx="60.37" cy="385.85" r="1.95"/>
<circle cx="61.86" cy="383.23" r="1.95"/>
<circle cx="61.23" cy="384.10" r="1.95"/>
<circle cx="62.16" cy="381.14" r="1.95"/>
<circle cx="61.84" cy="378.70" r="1.95"/>
<circle cx="63.38" cy="376.27" r="1.95"/>
<circle cx="63.78" cy="376.46" r="1.95"/>
<circle cx="64.08" cy="374.40" r="1.95"/>
<circle cx="64.47" cy="373.03" r="1.95"/>
<circle cx="63.91" cy="370.53" r="1.95"/>
<circle cx="63.96" cy="370.37" r="1.95"/>
<circle cx="64.81" cy="369.00" r="1.95"/>
<circle cx="65.40" cy="367.12" r="1.95"/>
<circle cx="66.89" cy="364.88" r="1.95"/>
<circle cx="66.29" cy="365.21" r="1.95"/>
<circle cx="67.76" cy="363.96" r="1.95"/>
<circle cx="69.55" cy="362.12" r="1.95"/>
<circle cx="72.27" cy="360.45" r="1.95"/>
<circle cx="71.67" cy="360.40" r="1.95"/>
<circle cx="74.92" cy="359.31" r="1.95"/>
<circle cx="74.47" cy="359.76" r="1.95"/>
<circle cx="77.04" cy="362.00" r="1.95"/>
<circle cx="77.18" cy="358.67" r="1.95"/>
<circle cx="78.53" cy="356.92" r="1.95"/>
<circle cx="77.63" cy="355.93" r="1.95"/>
<circle cx="77.84" cy="354.12" r="1.95"/>
<circle cx="78.65" cy="352.97" r="1.95"/>
<circle cx="79.86" cy="349.76" r="1.95"/>
<circle cx="79.07" cy="350.46" r="1.95"/>
<circle cx="82.27" cy="351.68" r="1.95"/>
<circle cx="82.35" cy="351.54" r="1.95"/>
<circle cx="83.26" cy="352.86" r="1.95"/>
<circle cx="84.52" cy="354.06" r="1.95"/>
<circle cx="84.54" cy="354.16" r="1.95"/>
<circle cx="86.04" cy="355.38" r="1.95"/>
<circle cx="87.10" cy="357.24" r="1.95"/>
<circle cx="88.16" cy="358.74" r="1.95"/>
<circle cx="88.19" cy="358.37" r="1.95"/>
<circle cx="89.57" cy="360.14" r="1.95"/>
<circle cx="91.54" cy="361.70" r="1.95"/>
<circle cx="91.01" cy="361.36" r="1.95"/>
<circle cx="92.86" cy="362.69" r="1.95"/>
<circle cx="94.55" cy="363.63" r="1.95"/>
<circle cx="96.02" cy="364.65" r="1.95"/>
<circle cx="97.11" cy="366.39" r="1.95"/>
<circle cx="98.49" cy="367.23" r="1.95"/>
<circle cx="99.96" cy="368.70" r="1.95"/>
<circle cx="101.41" cy="370.01" r="1.95"/>
<circle cx="103.21" cy="371.47" r="1.95"/>
<circle cx="104.27" cy="372.38" r="1.95"/>
<circle cx="105.39" cy="373.54" r="1.95"/>
<circle cx="105.48" cy="373.32" r="1.95"/>
<circle cx="107.03" cy="375.29" r="1.95"/>
<circle cx="108.63" cy="376.80" r="1.95"/>
<circle cx="109.89" cy="378.29" r="1.95"/>
<circle cx="111.12" cy="380.16" r="1.95"/>
<circle cx="111.52" cy="379.96" r="1.95"/>
<circle cx="112.62" cy="381.89" r="1.95"/>
<circle cx="114.03" cy="383.20" r="1.95"/>
<circle cx="115.16" cy="385.40" r="1.95"/>
<circle cx="117.60" cy="388.35" r="1.95"/>
<circle cx="119.07" cy="390.08" r="1.95"/>
<circle cx="118.84" cy="389.64" r="1.95"/>
<circle cx="121.28" cy="393.18" r="1.95"/>
<circle cx="121.89" cy="394.45" r="1.95"/>
<circle cx="123.42" cy="395.82" r="1.95"/>
<circle cx="124.27" cy="397.51" r="1.95"/>
<circle cx="124.32" cy="397.28" r="1.95"/>
<circle cx="125.61" cy="399.13" r="1.95"/>
<circle cx="126.36" cy="400.16" r="1.95"/>
<circle cx="127.43" cy="401.82" r="1.95"/>
<circle cx="128.99" cy="403.46" r="1.95"/>
<circle cx="133.52" cy="411.90" r="1.95"/>
<circle cx="134.85" cy="413.47" r="1.95"/>
<circle cx="139.34" cy="418.20" r="1.95"/>
<circle cx="138.86" cy="417.91" r="1.95"/>
<circle cx="140.53" cy="419.50" r="1.95"/>
<circle cx="141.53" cy="421.01" r="1.95"/>
<circle cx="143.38" cy="422.14" r="1.95"/>
<circle cx="144.75" cy="423.69" r="1.95"/>
<circle cx="145.97" cy="425.44" r="1.95"/>
<circle cx="146.35" cy="425.50" r="1.95"/>
<circle cx="147.05" cy="426.71" r="1.95"/>
<circle cx="150.17" cy="429.43" r="1.95"/>
<circle cx="151.19" cy="431.03" r="1.95"/>
<circle cx="151.51" cy="431.24" r="1.95"/>
<circle cx="153.62" cy="432.48" r="1.95"/>
<circle cx="155.51" cy="434.28" r="1.95"/>
<circle cx="155.21" cy="434.18" r="1.95"/>
<circle cx="157.52" cy="436.13" r="1.95"/>
<circle cx="159.06" cy="437.48" r="1.95"/>
<circle cx="163.77" cy="443.01" r="1.95"/>
<circle cx="164.93" cy="444.54" r="1.95"/>
<circle cx="167.11" cy="445.85" r="1.95"/>
<circle cx="168.52" cy="447.12" r="1.95"/>
<circle cx="168.59" cy="447.07" r="1.95"/>
<circle cx="170.38" cy="448.25" r="1.95"/>
<circle cx="172.48" cy="449.12" r="1.95"/>
<circle cx="174.25" cy="450.28" r="1.95"/>
<circle cx="174.53" cy="450.00" r="1.95"/>
<circle cx="178.04" cy="452.21" r="1.95"/>
<circle cx="179.59" cy="453.12" r="1.95"/>
<circle cx="179.44" cy="453.00" r="1.95"/>
<circle cx="184.77" cy="454.48" r="1.95"/>
<circle cx="184.93" cy="454.42" r="1.95"/>
<circle cx="187.25" cy="452.69" r="1.95"/>
<circle cx="188.92" cy="451.58" r="1.95"/>
<circle cx="188.66" cy="451.64" r="1.95"/>
<circle cx="190.96" cy="450.28" r="1.95"/>
<circle cx="193.06" cy="449.16" r="1.95"/>
<circle cx="192.74" cy="449.18" r="1.95"/>
<circle cx="193.74" cy="447.12" r="1.95"/>
<circle cx="195.24" cy="444.40" r="1.95"/>
<circle cx="195.74" cy="442.98" r="1.95"/>
<circle cx="196.08" cy="442.06" r="1.95"/>
<circle cx="195.73" cy="441.74" r="1.95"/>
<circle cx="197.72" cy="437.52" r="1.95"/>
<circle cx="198.01" cy="437.59" r="1.95"/>
<circle cx="199.16" cy="435.47" r="1.95"/>
<circle cx="200.74" cy="433.82" r="1.95"/>
</g>
<g fill="#3e5a85">
<circle cx="56.10" cy="431.58" r="1.95"/>
<circle cx="56.53" cy="429.72" r="1.95"/>
<circle cx="57.20" cy="426.71" r="1.95"/>
<circle cx="56.22" cy="426.20" r="1.95"/>
<circle cx="56.86" cy="423.08" r="1.95"/>
<circle cx="58.44" cy="421.54" r="1.95"/>
<circle cx="58.14" cy="421.56" r="1.95"/>
<circle cx="57.91" cy="419.12" r="1.95"/>
<circle cx="58.06" cy="418.67" r="1.95"/>
<circle cx="57.99" cy="416.61" r="1.95"/>
<circle cx="58.43" cy="413.50" r="1.95"/>
<circle cx="58.74" cy="412.69" r="1.95"/>
<circle cx="58.02" cy="409.81" r="1.95"/>
<circle cx="59.09" cy="410.65" r="1.95"/>
<circle cx="59.72" cy="409.12" r="1.95"/>
<circle cx="60.61" cy="406.90" r="1.95"/>
<circle cx="60.41" cy="406.06" r="1.95"/>
<circle cx="61.87" cy="404.47" r="1.95"/>
<circle cx="62.80" cy="403.73" r="1.95"/>
<circle cx="63.09" cy="403.26" r="1.95"/>
<circle cx="64.27" cy="401.95" r="1.95"/>
<circle cx="65.76" cy="400.98" r="1.95"/>
<circle cx="66.05" cy="401.51" r="1.95"/>
<circle cx="67.28" cy="399.33" r="1.95"/>
<circle cx="67.83" cy="395.46" r="1.95"/>
<circle cx="67.83" cy="396.38" r="1.95"/>
<circle cx="69.00" cy="394.55" r="1.95"/>
<circle cx="70.25" cy="393.25" r="1.95"/>
<circle cx="69.37" cy="394.07" r="1.95"/>
<circle cx="72.03" cy="390.32" r="1.95"/>
<circle cx="72.57" cy="388.63" r="1.95"/>
<circle cx="71.86" cy="388.99" r="1.95"/>
<circle cx="74.48" cy="387.08" r="1.95"/>
<circle cx="77.38" cy="385.37" r="1.95"/>
<circle cx="78.41" cy="385.11" r="1.95"/>
<circle cx="79.40" cy="382.49" r="1.95"/>
<circle cx="78.60" cy="380.79" r="1.95"/>
<circle cx="80.69" cy="378.83" r="1.95"/>
<circle cx="81.78" cy="377.16" r="1.95"/>
<circle cx="82.42" cy="377.18" r="1.95"/>
<circle cx="83.92" cy="376.91" r="1.95"/>
<circle cx="85.87" cy="376.94" r="1.95"/>
<circle cx="86.11" cy="376.90" r="1.95"/>
<circle cx="88.65" cy="374.92" r="1.95"/>
<circle cx="88.83" cy="375.11" r="1.95"/>
<circle cx="90.86" cy="375.94" r="1.95"/>
<circle cx="90.86" cy="376.08" r="1.95"/>
<circle cx="92.84" cy="377.74" r="1.95"/>
<circle cx="95.23" cy="379.20" r="1.95"/>
<circle cx="95.27" cy="378.97" r="1.95"/>
<circle cx="98.32" cy="382.53" r="1.95"/>
<circle cx="99.51" cy="384.27" r="1.95"/>
<circle cx="100.77" cy="386.01" r="1.95"/>
<circle cx="107.46" cy="393.61" r="1.95"/>
<circle cx="108.64" cy="395.12" r="1.95"/>
<circle cx="110.21" cy="396.25" r="1.95"/>
<circle cx="111.53" cy="397.60" r="1.95"/>
<circle cx="113.22" cy="398.91" r="1.95"/>
<circle cx="114.34" cy="400.79" r="1.95"/>
<circle cx="116.08" cy="401.70" r="1.95"/>
<circle cx="117.31" cy="403.57" r="1.95"/>
<circle cx="117.01" cy="403.03" r="1.95"/>
<circle cx="118.22" cy="404.98" r="1.95"/>
<circle cx="119.45" cy="406.08" r="1.95"/>
<circle cx="121.00" cy="407.91" r="1.95"/>
<circle cx="120.64" cy="407.55" r="1.95"/>
<circle cx="121.94" cy="409.31" r="1.95"/>
<circle cx="123.24" cy="411.08" r="1.95"/>
<circle cx="124.26" cy="412.51" r="1.95"/>
<circle cx="125.97" cy="414.92" r="1.95"/>
<circle cx="127.22" cy="416.60" r="1.95"/>
<circle cx="127.07" cy="416.54" r="1.95"/>
<circle cx="127.88" cy="417.70" r="1.95"/>
<circle cx="128.64" cy="419.09" r="1.95"/>
<circle cx="129.65" cy="421.15" r="1.95"/>
<circle cx="131.87" cy="424.32" r="1.95"/>
<circle cx="132.98" cy="425.62" r="1.95"/>
<circle cx="134.40" cy="428.52" r="1.95"/>
<circle cx="135.62" cy="430.14" r="1.95"/>
<circle cx="135.68" cy="430.09" r="1.95"/>
<circle cx="137.00" cy="431.62" r="1.95"/>
<circle cx="137.80" cy="432.85" r="1.95"/>
<circle cx="139.27" cy="434.27" r="1.95"/>
<circle cx="140.50" cy="436.15" r="1.95"/>
<circle cx="141.01" cy="437.46" r="1.95"/>
<circle cx="142.18" cy="438.64" r="1.95"/>
<circle cx="142.52" cy="438.75" r="1.95"/>
<circle cx="144.25" cy="439.67" r="1.95"/>
<circle cx="146.92" cy="442.16" r="1.95"/>
<circle cx="148.99" cy="443.39" r="1.95"/>
<circle cx="150.17" cy="444.77" r="1.95"/>
<circle cx="150.40" cy="444.96" r="1.95"/>
<circle cx="151.32" cy="446.71" r="1.95"/>
<circle cx="152.81" cy="448.92" r="1.95"/>
<circle cx="153.71" cy="450.47" r="1.95"/>
<circle cx="154.07" cy="450.90" r="1.95"/>
<circle cx="155.56" cy="452.19" r="1.95"/>
<circle cx="156.61" cy="453.50" r="1.95"/>
<circle cx="157.99" cy="455.04" r="1.95"/>
<circle cx="159.22" cy="456.33" r="1.95"/>
<circle cx="159.10" cy="456.25" r="1.95"/>
<circle cx="161.47" cy="457.97" r="1.95"/>
<circle cx="163.28" cy="459.24" r="1.95"/>
<circle cx="164.77" cy="460.14" r="1.95"/>
<circle cx="164.91" cy="460.67" r="1.95"/>
<circle cx="166.92" cy="462.21" r="1.95"/>
<circle cx="168.52" cy="463.76" r="1.95"/>
<circle cx="170.69" cy="464.73" r="1.95"/>
<circle cx="173.98" cy="466.07" r="1.95"/>
<circle cx="175.93" cy="466.64" r="1.95"/>
<circle cx="176.44" cy="466.72" r="1.95"/>
<circle cx="178.01" cy="464.74" r="1.95"/>
<circle cx="179.41" cy="463.88" r="1.95"/>
<circle cx="186.00" cy="468.19" r="1.95"/>
<circle cx="187.08" cy="467.36" r="1.95"/>
<circle cx="188.14" cy="465.59" r="1.95"/>
<circle cx="189.88" cy="464.33" r="1.95"/>
<circle cx="189.63" cy="464.30" r="1.95"/>
<circle cx="190.54" cy="462.60" r="1.95"/>
<circle cx="191.91" cy="460.97" r="1.95"/>
<circle cx="193.23" cy="459.18" r="1.95"/>
<circle cx="193.43" cy="459.03" r="1.95"/>
<circle cx="193.74" cy="457.27" r="1.95"/>
<circle cx="195.19" cy="454.33" r="1.95"/>
<circle cx="194.33" cy="453.47" r="1.95"/>
<circle cx="195.11" cy="452.96" r="1.95"/>
<circle cx="196.88" cy="452.49" r="1.95"/>
<circle cx="199.16" cy="452.17" r="1.95"/>
<circle cx="198.59" cy="452.66" r="1.95"/>
<circle cx="200.43" cy="449.68" r="1.95"/>
<circle cx="200.42" cy="447.67" r="1.95"/>
<circle cx="201.17" cy="445.76" r="1.95"/>
<circle cx="200.06" cy="445.06" r="1.95"/>
<circle cx="199.79" cy="443.21" r="1.95"/>
<circle cx="200.68" cy="440.28" r="1.95"/>
<circle cx="200.63" cy="440.56" r="1.95"/>
<circle cx="201.72" cy="438.42" r="1.95"/>
<circle cx="202.43" cy="437.26" r="1.95"/>
<circle cx="201.99" cy="435.44" r="1.95"/>
</g>
<text x="231.75" y="316.30" font-size="11" text-anchor="start" fill="#000" stroke="#000" stroke-width="0.15" textLength="7.00" lengthAdjust="spacingAndGlyphs" >D</text>
<text x="359.70" y="316.80" font-size="10.0" text-anchor="middle" fill="#000" stroke="#000" stroke-width="0.06" textLength="24.50" lengthAdjust="spacingAndGlyphs" >LTHSC</text>
<g stroke="#222" stroke-width="0.9" fill="none">
<line x1="275.5" y1="349.5" x2="275.5" y2="486.5" stroke-width="1.25"/>
<line x1="274.9" y1="485.9" x2="439.5" y2="485.9" stroke-width="1.35"/>
<line x1="275.5" y1="437.5" x2="459.2" y2="437.5" stroke-width="1.1"/>
<line x1="272.7" y1="352" x2="275.5" y2="352"/>
<line x1="272.7" y1="394.5" x2="275.5" y2="394.5"/>
<line x1="272.7" y1="437.2" x2="275.5" y2="437.2"/>
<line x1="272.7" y1="479.4" x2="275.5" y2="479.4"/>
<line x1="282.9" y1="485.9" x2="282.9" y2="488.7"/>
<line x1="321.4" y1="485.9" x2="321.4" y2="488.7"/>
<line x1="359.6" y1="485.9" x2="359.6" y2="488.7"/>
<line x1="398.4" y1="485.9" x2="398.4" y2="488.7"/>
<line x1="436.2" y1="485.9" x2="436.2" y2="488.7"/>
</g>
<text x="268.8" y="354.50" font-size="7" text-anchor="end" fill="#111" stroke="#111" stroke-width="0.15">0.4</text>
<text x="268.8" y="397.00" font-size="7" text-anchor="end" fill="#111" stroke="#111" stroke-width="0.15">0.2</text>
<text x="268.8" y="439.70" font-size="7" text-anchor="end" fill="#111" stroke="#111" stroke-width="0.15">0.0</text>
<text x="268.8" y="481.90" font-size="7" text-anchor="end" fill="#111" stroke="#111" stroke-width="0.15">-0.2</text>
<text x="282.9" y="498.5" font-size="7" text-anchor="middle" fill="#111" stroke="#111" stroke-width="0.15">0</text>
<text x="321.4" y="498.5" font-size="7" text-anchor="middle" fill="#111" stroke="#111" stroke-width="0.15">5000</text>
<text x="359.6" y="498.5" font-size="7" text-anchor="middle" fill="#111" stroke="#111" stroke-width="0.15">10000</text>
<text x="398.4" y="498.5" font-size="7" text-anchor="middle" fill="#111" stroke="#111" stroke-width="0.15">15000</text>
<text x="436.2" y="498.5" font-size="7" text-anchor="middle" fill="#111" stroke="#111" stroke-width="0.15">20000</text>
<text x="359.60" y="511.80" font-size="9.7" text-anchor="middle" fill="#000" stroke="#000" stroke-width="0.18" textLength="64.50" lengthAdjust="spacingAndGlyphs" >Rank in gene list</text>
<text transform="translate(251.8 416.3) rotate(-90)" x="0" y="0" font-size="10.1" text-anchor="middle" fill="#111" stroke="#111" stroke-width="0.2" textLength="103.8" lengthAdjust="spacingAndGlyphs">Running enrichment score</text>
<circle cx="365.8" cy="331.8" r="1.75" fill="#a2303f"/><circle cx="365.8" cy="340.5" r="1.75" fill="#3e5a85"/><circle cx="365.8" cy="350" r="1.75" fill="#70a955"/>
<text x="370.50" y="334.40" font-size="7.4" text-anchor="start" fill="#000" stroke="#000" stroke-width="0.18" textLength="62.00" lengthAdjust="spacingAndGlyphs" >Up genes in ov-E2F1</text>
<text x="370.50" y="343.10" font-size="7.4" text-anchor="start" fill="#000" stroke="#000" stroke-width="0.18" textLength="61.00" lengthAdjust="spacingAndGlyphs" >Up genes in ov-MYC</text>
<text x="370.50" y="352.60" font-size="7.4" text-anchor="start" fill="#000" stroke="#000" stroke-width="0.18" textLength="65.50" lengthAdjust="spacingAndGlyphs" >Up genes in ov-MTOR</text>
<text x="292.30" y="446.10" font-size="7.1" text-anchor="start" fill="#000" stroke="#000" stroke-width="0.18" textLength="33.50" lengthAdjust="spacingAndGlyphs" >All p &lt; 0.05</text>
<line x1="316.1" y1="348.1" x2="316.1" y2="437.2" stroke="#3e5a85" stroke-width="1.05" stroke-dasharray="3.4 1.6"/>
<line x1="314.6" y1="363.1" x2="314.6" y2="437.2" stroke="#70a955" stroke-width="1.05" stroke-dasharray="3.4 1.6"/>
<line x1="322.5" y1="358.1" x2="322.5" y2="437.2" stroke="#a2303f" stroke-width="1.05" stroke-dasharray="3.4 1.6"/>
<g fill="#3e5a85">
<circle cx="282.20" cy="429.45" r="1.72"/>
<circle cx="282.59" cy="427.51" r="1.72"/>
<circle cx="282.04" cy="425.95" r="1.72"/>
<circle cx="283.74" cy="424.67" r="1.72"/>
<circle cx="283.54" cy="421.54" r="1.72"/>
<circle cx="283.19" cy="419.61" r="1.72"/>
<circle cx="282.58" cy="417.25" r="1.72"/>
<circle cx="282.66" cy="418.81" r="1.72"/>
<circle cx="283.89" cy="416.75" r="1.72"/>
<circle cx="283.90" cy="413.75" r="1.72"/>
<circle cx="283.04" cy="412.74" r="1.72"/>
<circle cx="283.91" cy="411.34" r="1.72"/>
<circle cx="284.26" cy="408.05" r="1.72"/>
<circle cx="283.80" cy="407.33" r="1.72"/>
<circle cx="283.68" cy="404.55" r="1.72"/>
<circle cx="283.68" cy="402.55" r="1.72"/>
<circle cx="284.63" cy="402.19" r="1.72"/>
<circle cx="283.89" cy="401.12" r="1.72"/>
<circle cx="285.06" cy="399.89" r="1.72"/>
<circle cx="285.49" cy="398.66" r="1.72"/>
<circle cx="285.27" cy="396.09" r="1.72"/>
<circle cx="285.92" cy="394.37" r="1.72"/>
<circle cx="285.57" cy="392.38" r="1.72"/>
<circle cx="287.29" cy="390.13" r="1.72"/>
<circle cx="285.84" cy="391.24" r="1.72"/>
<circle cx="286.84" cy="389.13" r="1.72"/>
<circle cx="287.77" cy="386.82" r="1.72"/>
<circle cx="289.32" cy="384.60" r="1.72"/>
<circle cx="288.77" cy="382.68" r="1.72"/>
<circle cx="289.75" cy="380.87" r="1.72"/>
<circle cx="289.23" cy="381.77" r="1.72"/>
<circle cx="289.64" cy="379.66" r="1.72"/>
<circle cx="291.23" cy="377.04" r="1.72"/>
<circle cx="290.12" cy="375.53" r="1.72"/>
<circle cx="291.94" cy="374.52" r="1.72"/>
<circle cx="291.42" cy="372.23" r="1.72"/>
<circle cx="291.79" cy="370.72" r="1.72"/>
<circle cx="293.64" cy="369.18" r="1.72"/>
<circle cx="294.66" cy="366.60" r="1.72"/>
<circle cx="295.63" cy="365.19" r="1.72"/>
<circle cx="295.61" cy="365.08" r="1.72"/>
<circle cx="297.11" cy="364.28" r="1.72"/>
<circle cx="298.95" cy="363.92" r="1.72"/>
<circle cx="299.08" cy="363.66" r="1.72"/>
<circle cx="301.27" cy="360.10" r="1.72"/>
<circle cx="301.72" cy="358.64" r="1.72"/>
<circle cx="301.86" cy="357.75" r="1.72"/>
<circle cx="302.16" cy="355.06" r="1.72"/>
<circle cx="303.37" cy="353.84" r="1.72"/>
<circle cx="303.68" cy="353.49" r="1.72"/>
<circle cx="306.85" cy="351.24" r="1.72"/>
<circle cx="306.69" cy="351.44" r="1.72"/>
<circle cx="308.78" cy="350.42" r="1.72"/>
<circle cx="308.48" cy="350.54" r="1.72"/>
<circle cx="311.47" cy="350.23" r="1.72"/>
<circle cx="310.87" cy="349.83" r="1.72"/>
<circle cx="313.40" cy="349.01" r="1.72"/>
<circle cx="313.35" cy="348.89" r="1.72"/>
<circle cx="316.55" cy="348.34" r="1.72"/>
<circle cx="321.38" cy="352.61" r="1.72"/>
<circle cx="323.67" cy="352.00" r="1.72"/>
<circle cx="325.70" cy="351.76" r="1.72"/>
<circle cx="326.20" cy="351.39" r="1.72"/>
<circle cx="328.91" cy="353.50" r="1.72"/>
<circle cx="328.72" cy="353.51" r="1.72"/>
<circle cx="329.84" cy="355.00" r="1.72"/>
<circle cx="331.00" cy="356.33" r="1.72"/>
<circle cx="332.72" cy="356.98" r="1.72"/>
<circle cx="332.34" cy="357.63" r="1.72"/>
<circle cx="334.22" cy="358.02" r="1.72"/>
<circle cx="336.50" cy="359.37" r="1.72"/>
<circle cx="338.18" cy="359.80" r="1.72"/>
<circle cx="339.96" cy="361.36" r="1.72"/>
<circle cx="340.52" cy="361.30" r="1.72"/>
<circle cx="342.26" cy="362.34" r="1.72"/>
<circle cx="344.27" cy="362.93" r="1.72"/>
<circle cx="346.27" cy="364.01" r="1.72"/>
<circle cx="347.67" cy="364.67" r="1.72"/>
<circle cx="347.99" cy="365.26" r="1.72"/>
<circle cx="350.75" cy="366.60" r="1.72"/>
<circle cx="351.02" cy="366.36" r="1.72"/>
<circle cx="352.43" cy="368.11" r="1.72"/>
<circle cx="353.32" cy="370.30" r="1.72"/>
<circle cx="354.41" cy="371.79" r="1.72"/>
<circle cx="355.52" cy="373.23" r="1.72"/>
<circle cx="356.07" cy="373.51" r="1.72"/>
<circle cx="357.48" cy="375.12" r="1.72"/>
<circle cx="358.92" cy="376.14" r="1.72"/>
<circle cx="360.31" cy="377.72" r="1.72"/>
<circle cx="361.27" cy="379.46" r="1.72"/>
<circle cx="361.25" cy="379.20" r="1.72"/>
<circle cx="362.98" cy="380.93" r="1.72"/>
<circle cx="364.05" cy="381.97" r="1.72"/>
<circle cx="365.84" cy="383.70" r="1.72"/>
<circle cx="367.00" cy="384.82" r="1.72"/>
<circle cx="367.20" cy="385.19" r="1.72"/>
<circle cx="368.59" cy="386.80" r="1.72"/>
<circle cx="369.57" cy="388.64" r="1.72"/>
<circle cx="371.19" cy="389.89" r="1.72"/>
<circle cx="372.30" cy="391.78" r="1.72"/>
<circle cx="371.85" cy="391.89" r="1.72"/>
<circle cx="373.33" cy="392.89" r="1.72"/>
<circle cx="374.08" cy="394.82" r="1.72"/>
<circle cx="375.73" cy="395.96" r="1.72"/>
<circle cx="376.46" cy="397.58" r="1.72"/>
<circle cx="377.62" cy="399.26" r="1.72"/>
<circle cx="378.91" cy="400.28" r="1.72"/>
<circle cx="378.47" cy="400.06" r="1.72"/>
<circle cx="380.73" cy="402.06" r="1.72"/>
<circle cx="382.52" cy="403.06" r="1.72"/>
<circle cx="383.90" cy="404.80" r="1.72"/>
<circle cx="385.78" cy="406.53" r="1.72"/>
<circle cx="385.71" cy="406.32" r="1.72"/>
<circle cx="387.11" cy="407.63" r="1.72"/>
<circle cx="388.75" cy="408.53" r="1.72"/>
<circle cx="390.15" cy="409.94" r="1.72"/>
<circle cx="391.11" cy="410.88" r="1.72"/>
<circle cx="391.65" cy="411.28" r="1.72"/>
<circle cx="392.59" cy="412.56" r="1.72"/>
<circle cx="393.96" cy="413.34" r="1.72"/>
<circle cx="395.41" cy="415.16" r="1.72"/>
<circle cx="396.65" cy="416.68" r="1.72"/>
<circle cx="397.86" cy="417.40" r="1.72"/>
<circle cx="398.44" cy="417.99" r="1.72"/>
<circle cx="399.39" cy="418.61" r="1.72"/>
<circle cx="400.76" cy="420.40" r="1.72"/>
<circle cx="402.57" cy="421.05" r="1.72"/>
<circle cx="403.66" cy="422.81" r="1.72"/>
<circle cx="404.00" cy="422.63" r="1.72"/>
<circle cx="406.05" cy="422.00" r="1.72"/>
<circle cx="407.43" cy="421.55" r="1.72"/>
<circle cx="409.34" cy="421.19" r="1.72"/>
<circle cx="411.40" cy="423.22" r="1.72"/>
<circle cx="413.66" cy="424.51" r="1.72"/>
<circle cx="413.76" cy="424.55" r="1.72"/>
<circle cx="415.31" cy="423.83" r="1.72"/>
<circle cx="416.85" cy="422.71" r="1.72"/>
<circle cx="418.51" cy="421.92" r="1.72"/>
<circle cx="420.46" cy="421.33" r="1.72"/>
<circle cx="420.33" cy="421.75" r="1.72"/>
<circle cx="421.80" cy="422.42" r="1.72"/>
<circle cx="424.89" cy="424.75" r="1.72"/>
<circle cx="426.66" cy="425.64" r="1.72"/>
<circle cx="426.71" cy="425.44" r="1.72"/>
<circle cx="428.79" cy="426.40" r="1.72"/>
<circle cx="430.73" cy="427.98" r="1.72"/>
<circle cx="432.43" cy="428.98" r="1.72"/>
<circle cx="434.09" cy="430.34" r="1.72"/>
<circle cx="435.68" cy="431.79" r="1.72"/>
<circle cx="435.70" cy="431.78" r="1.72"/>
<circle cx="437.51" cy="432.43" r="1.72"/>
<circle cx="440.32" cy="433.28" r="1.72"/>
<circle cx="442.58" cy="434.09" r="1.72"/>
<circle cx="442.53" cy="434.27" r="1.72"/>
<circle cx="444.47" cy="437.01" r="1.72"/>
</g>
<g fill="#a2303f">
<circle cx="284.03" cy="434.66" r="1.72"/>
<circle cx="284.63" cy="433.13" r="1.72"/>
<circle cx="284.80" cy="431.17" r="1.72"/>
<circle cx="283.72" cy="428.39" r="1.72"/>
<circle cx="285.73" cy="426.83" r="1.72"/>
<circle cx="285.92" cy="423.89" r="1.72"/>
<circle cx="285.37" cy="422.23" r="1.72"/>
<circle cx="285.78" cy="420.94" r="1.72"/>
<circle cx="284.77" cy="420.26" r="1.72"/>
<circle cx="285.45" cy="419.66" r="1.72"/>
<circle cx="286.54" cy="416.29" r="1.72"/>
<circle cx="286.76" cy="414.31" r="1.72"/>
<circle cx="286.59" cy="412.36" r="1.72"/>
<circle cx="285.59" cy="411.84" r="1.72"/>
<circle cx="286.15" cy="408.66" r="1.72"/>
<circle cx="287.62" cy="409.91" r="1.72"/>
<circle cx="287.00" cy="408.15" r="1.72"/>
<circle cx="288.17" cy="405.69" r="1.72"/>
<circle cx="288.24" cy="404.26" r="1.72"/>
<circle cx="289.86" cy="402.39" r="1.72"/>
<circle cx="290.25" cy="401.12" r="1.72"/>
<circle cx="289.89" cy="398.95" r="1.72"/>
<circle cx="290.13" cy="396.84" r="1.72"/>
<circle cx="291.07" cy="395.95" r="1.72"/>
<circle cx="291.16" cy="394.17" r="1.72"/>
<circle cx="292.44" cy="391.56" r="1.72"/>
<circle cx="294.01" cy="389.96" r="1.72"/>
<circle cx="293.39" cy="390.14" r="1.72"/>
<circle cx="295.00" cy="386.31" r="1.72"/>
<circle cx="295.96" cy="384.40" r="1.72"/>
<circle cx="296.05" cy="384.35" r="1.72"/>
<circle cx="295.67" cy="381.44" r="1.72"/>
<circle cx="296.29" cy="381.26" r="1.72"/>
<circle cx="296.62" cy="378.99" r="1.72"/>
<circle cx="297.51" cy="378.39" r="1.72"/>
<circle cx="299.12" cy="377.69" r="1.72"/>
<circle cx="301.17" cy="376.71" r="1.72"/>
<circle cx="300.68" cy="376.81" r="1.72"/>
<circle cx="304.08" cy="371.99" r="1.72"/>
<circle cx="304.30" cy="371.73" r="1.72"/>
<circle cx="306.27" cy="370.02" r="1.72"/>
<circle cx="308.13" cy="369.16" r="1.72"/>
<circle cx="310.32" cy="366.24" r="1.72"/>
<circle cx="309.10" cy="365.88" r="1.72"/>
<circle cx="310.60" cy="362.86" r="1.72"/>
<circle cx="310.62" cy="361.30" r="1.72"/>
<circle cx="312.32" cy="359.12" r="1.72"/>
<circle cx="311.39" cy="359.49" r="1.72"/>
<circle cx="316.74" cy="358.94" r="1.72"/>
<circle cx="316.81" cy="359.29" r="1.72"/>
<circle cx="318.12" cy="357.70" r="1.72"/>
<circle cx="320.54" cy="356.16" r="1.72"/>
<circle cx="320.65" cy="356.55" r="1.72"/>
<circle cx="322.22" cy="355.84" r="1.72"/>
<circle cx="324.19" cy="355.25" r="1.72"/>
<circle cx="323.95" cy="355.31" r="1.72"/>
<circle cx="325.82" cy="356.89" r="1.72"/>
<circle cx="326.69" cy="357.91" r="1.72"/>
<circle cx="327.00" cy="358.46" r="1.72"/>
<circle cx="328.93" cy="359.69" r="1.72"/>
<circle cx="330.78" cy="360.98" r="1.72"/>
<circle cx="332.74" cy="361.95" r="1.72"/>
<circle cx="332.79" cy="362.23" r="1.72"/>
<circle cx="334.81" cy="363.65" r="1.72"/>
<circle cx="336.06" cy="365.03" r="1.72"/>
<circle cx="336.52" cy="364.97" r="1.72"/>
<circle cx="337.95" cy="366.63" r="1.72"/>
<circle cx="339.40" cy="368.02" r="1.72"/>
<circle cx="340.65" cy="369.52" r="1.72"/>
<circle cx="342.33" cy="371.03" r="1.72"/>
<circle cx="342.21" cy="370.72" r="1.72"/>
<circle cx="343.86" cy="372.46" r="1.72"/>
<circle cx="345.18" cy="373.75" r="1.72"/>
<circle cx="346.25" cy="375.25" r="1.72"/>
<circle cx="348.02" cy="376.44" r="1.72"/>
<circle cx="348.09" cy="376.60" r="1.72"/>
<circle cx="349.12" cy="377.61" r="1.72"/>
<circle cx="351.11" cy="379.00" r="1.72"/>
<circle cx="351.09" cy="378.88" r="1.72"/>
<circle cx="352.01" cy="380.81" r="1.72"/>
<circle cx="353.27" cy="382.83" r="1.72"/>
<circle cx="354.27" cy="384.95" r="1.72"/>
<circle cx="355.88" cy="386.96" r="1.72"/>
<circle cx="356.08" cy="386.55" r="1.72"/>
<circle cx="357.54" cy="388.44" r="1.72"/>
<circle cx="359.83" cy="390.01" r="1.72"/>
<circle cx="361.22" cy="391.73" r="1.72"/>
<circle cx="362.84" cy="393.62" r="1.72"/>
<circle cx="364.01" cy="395.12" r="1.72"/>
<circle cx="365.26" cy="396.25" r="1.72"/>
<circle cx="366.68" cy="398.42" r="1.72"/>
<circle cx="367.99" cy="399.60" r="1.72"/>
<circle cx="368.85" cy="401.03" r="1.72"/>
<circle cx="369.28" cy="401.05" r="1.72"/>
<circle cx="370.63" cy="402.75" r="1.72"/>
<circle cx="371.33" cy="404.23" r="1.72"/>
<circle cx="372.60" cy="406.24" r="1.72"/>
<circle cx="373.91" cy="407.29" r="1.72"/>
<circle cx="375.00" cy="408.94" r="1.72"/>
<circle cx="375.34" cy="408.99" r="1.72"/>
<circle cx="376.43" cy="410.44" r="1.72"/>
<circle cx="377.86" cy="412.26" r="1.72"/>
<circle cx="379.58" cy="413.76" r="1.72"/>
<circle cx="380.64" cy="416.10" r="1.72"/>
<circle cx="380.62" cy="415.64" r="1.72"/>
<circle cx="382.68" cy="417.20" r="1.72"/>
<circle cx="383.86" cy="418.98" r="1.72"/>
<circle cx="385.59" cy="420.15" r="1.72"/>
<circle cx="386.82" cy="421.98" r="1.72"/>
<circle cx="388.36" cy="423.52" r="1.72"/>
<circle cx="388.40" cy="423.67" r="1.72"/>
<circle cx="389.72" cy="424.67" r="1.72"/>
<circle cx="391.87" cy="426.45" r="1.72"/>
<circle cx="392.78" cy="427.71" r="1.72"/>
<circle cx="394.71" cy="429.01" r="1.72"/>
<circle cx="396.19" cy="430.49" r="1.72"/>
<circle cx="396.12" cy="430.45" r="1.72"/>
<circle cx="397.96" cy="431.26" r="1.72"/>
<circle cx="402.04" cy="432.63" r="1.72"/>
<circle cx="404.00" cy="433.79" r="1.72"/>
<circle cx="403.78" cy="433.53" r="1.72"/>
<circle cx="405.61" cy="433.63" r="1.72"/>
<circle cx="407.87" cy="433.95" r="1.72"/>
<circle cx="409.80" cy="434.83" r="1.72"/>
<circle cx="411.17" cy="435.16" r="1.72"/>
<circle cx="411.85" cy="435.14" r="1.72"/>
<circle cx="414.20" cy="438.00" r="1.72"/>
<circle cx="416.00" cy="439.09" r="1.72"/>
<circle cx="417.59" cy="440.55" r="1.72"/>
<circle cx="417.24" cy="440.56" r="1.72"/>
<circle cx="418.91" cy="440.19" r="1.72"/>
<circle cx="420.87" cy="439.82" r="1.72"/>
<circle cx="423.27" cy="440.06" r="1.72"/>
<circle cx="423.05" cy="439.67" r="1.72"/>
<circle cx="425.02" cy="439.38" r="1.72"/>
<circle cx="426.64" cy="438.49" r="1.72"/>
<circle cx="428.97" cy="437.63" r="1.72"/>
<circle cx="430.84" cy="436.98" r="1.72"/>
<circle cx="430.84" cy="436.73" r="1.72"/>
<circle cx="432.74" cy="436.89" r="1.72"/>
<circle cx="434.56" cy="437.57" r="1.72"/>
<circle cx="436.72" cy="437.76" r="1.72"/>
<circle cx="438.21" cy="437.64" r="1.72"/>
<circle cx="440.22" cy="436.21" r="1.72"/>
<circle cx="442.18" cy="434.21" r="1.72"/>
</g>
<g fill="#70a955">
<circle cx="282.36" cy="429.11" r="1.72"/>
<circle cx="281.94" cy="426.13" r="1.72"/>
<circle cx="281.18" cy="424.98" r="1.72"/>
<circle cx="282.24" cy="423.24" r="1.72"/>
<circle cx="282.23" cy="421.35" r="1.72"/>
<circle cx="282.20" cy="419.49" r="1.72"/>
<circle cx="283.24" cy="416.84" r="1.72"/>
<circle cx="282.87" cy="417.35" r="1.72"/>
<circle cx="282.47" cy="415.15" r="1.72"/>
<circle cx="283.88" cy="412.65" r="1.72"/>
<circle cx="284.13" cy="411.50" r="1.72"/>
<circle cx="284.45" cy="408.89" r="1.72"/>
<circle cx="284.01" cy="409.41" r="1.72"/>
<circle cx="284.97" cy="407.09" r="1.72"/>
<circle cx="286.55" cy="405.72" r="1.72"/>
<circle cx="286.87" cy="404.83" r="1.72"/>
<circle cx="287.70" cy="403.21" r="1.72"/>
<circle cx="288.92" cy="402.33" r="1.72"/>
<circle cx="288.83" cy="399.90" r="1.72"/>
<circle cx="289.88" cy="398.28" r="1.72"/>
<circle cx="290.41" cy="396.80" r="1.72"/>
<circle cx="289.64" cy="395.95" r="1.72"/>
<circle cx="289.93" cy="393.99" r="1.72"/>
<circle cx="289.92" cy="392.60" r="1.72"/>
<circle cx="291.15" cy="389.21" r="1.72"/>
<circle cx="291.81" cy="387.64" r="1.72"/>
<circle cx="290.92" cy="387.97" r="1.72"/>
<circle cx="291.51" cy="385.55" r="1.72"/>
<circle cx="293.59" cy="384.58" r="1.72"/>
<circle cx="292.67" cy="382.83" r="1.72"/>
<circle cx="293.38" cy="380.08" r="1.72"/>
<circle cx="295.07" cy="380.63" r="1.72"/>
<circle cx="294.93" cy="377.77" r="1.72"/>
<circle cx="296.09" cy="374.89" r="1.72"/>
<circle cx="295.99" cy="375.55" r="1.72"/>
<circle cx="298.13" cy="374.99" r="1.72"/>
<circle cx="300.44" cy="373.97" r="1.72"/>
<circle cx="300.37" cy="373.66" r="1.72"/>
<circle cx="302.71" cy="373.21" r="1.72"/>
<circle cx="305.04" cy="372.64" r="1.72"/>
<circle cx="305.07" cy="372.54" r="1.72"/>
<circle cx="306.40" cy="371.17" r="1.72"/>
<circle cx="308.86" cy="368.70" r="1.72"/>
<circle cx="308.77" cy="369.10" r="1.72"/>
<circle cx="310.64" cy="367.67" r="1.72"/>
<circle cx="312.44" cy="365.98" r="1.72"/>
<circle cx="312.35" cy="365.91" r="1.72"/>
<circle cx="314.76" cy="364.88" r="1.72"/>
<circle cx="316.83" cy="364.30" r="1.72"/>
<circle cx="316.57" cy="363.87" r="1.72"/>
<circle cx="318.39" cy="364.71" r="1.72"/>
<circle cx="320.15" cy="364.65" r="1.72"/>
<circle cx="319.99" cy="364.67" r="1.72"/>
<circle cx="321.33" cy="366.42" r="1.72"/>
<circle cx="323.21" cy="367.78" r="1.72"/>
<circle cx="324.51" cy="368.88" r="1.72"/>
<circle cx="327.20" cy="370.02" r="1.72"/>
<circle cx="326.98" cy="369.52" r="1.72"/>
<circle cx="328.62" cy="369.89" r="1.72"/>
<circle cx="330.48" cy="369.89" r="1.72"/>
<circle cx="332.32" cy="369.90" r="1.72"/>
<circle cx="338.58" cy="376.59" r="1.72"/>
<circle cx="339.49" cy="377.85" r="1.72"/>
<circle cx="341.28" cy="379.02" r="1.72"/>
<circle cx="342.93" cy="379.82" r="1.72"/>
<circle cx="344.30" cy="380.71" r="1.72"/>
<circle cx="345.84" cy="382.04" r="1.72"/>
<circle cx="346.96" cy="383.04" r="1.72"/>
<circle cx="346.69" cy="383.41" r="1.72"/>
<circle cx="348.15" cy="385.09" r="1.72"/>
<circle cx="349.85" cy="386.21" r="1.72"/>
<circle cx="350.85" cy="388.25" r="1.72"/>
<circle cx="353.72" cy="391.21" r="1.72"/>
<circle cx="354.47" cy="392.47" r="1.72"/>
<circle cx="354.49" cy="393.05" r="1.72"/>
<circle cx="356.41" cy="394.44" r="1.72"/>
<circle cx="357.10" cy="396.06" r="1.72"/>
<circle cx="358.73" cy="397.47" r="1.72"/>
<circle cx="358.40" cy="397.20" r="1.72"/>
<circle cx="359.57" cy="398.97" r="1.72"/>
<circle cx="360.95" cy="400.16" r="1.72"/>
<circle cx="362.22" cy="401.66" r="1.72"/>
<circle cx="363.54" cy="403.59" r="1.72"/>
<circle cx="363.26" cy="403.17" r="1.72"/>
<circle cx="364.75" cy="405.18" r="1.72"/>
<circle cx="365.68" cy="406.53" r="1.72"/>
<circle cx="367.06" cy="408.25" r="1.72"/>
<circle cx="368.34" cy="410.11" r="1.72"/>
<circle cx="368.40" cy="410.21" r="1.72"/>
<circle cx="369.62" cy="411.78" r="1.72"/>
<circle cx="370.79" cy="412.82" r="1.72"/>
<circle cx="372.83" cy="415.95" r="1.72"/>
<circle cx="374.12" cy="416.91" r="1.72"/>
<circle cx="375.53" cy="418.47" r="1.72"/>
<circle cx="376.75" cy="419.96" r="1.72"/>
<circle cx="377.72" cy="421.79" r="1.72"/>
<circle cx="378.80" cy="422.70" r="1.72"/>
<circle cx="380.14" cy="424.09" r="1.72"/>
<circle cx="379.98" cy="424.52" r="1.72"/>
<circle cx="381.07" cy="425.79" r="1.72"/>
<circle cx="381.91" cy="427.73" r="1.72"/>
<circle cx="383.48" cy="428.82" r="1.72"/>
<circle cx="384.27" cy="430.76" r="1.72"/>
<circle cx="385.95" cy="432.25" r="1.72"/>
<circle cx="385.79" cy="431.82" r="1.72"/>
<circle cx="386.70" cy="433.46" r="1.72"/>
<circle cx="388.76" cy="434.67" r="1.72"/>
<circle cx="390.19" cy="436.40" r="1.72"/>
<circle cx="390.99" cy="437.65" r="1.72"/>
<circle cx="396.11" cy="442.31" r="1.72"/>
<circle cx="397.84" cy="443.64" r="1.72"/>
<circle cx="398.43" cy="443.62" r="1.72"/>
<circle cx="399.68" cy="444.93" r="1.72"/>
<circle cx="401.02" cy="445.73" r="1.72"/>
<circle cx="402.50" cy="447.08" r="1.72"/>
<circle cx="404.31" cy="448.57" r="1.72"/>
<circle cx="405.81" cy="449.13" r="1.72"/>
<circle cx="405.78" cy="449.65" r="1.72"/>
<circle cx="407.26" cy="451.30" r="1.72"/>
<circle cx="408.68" cy="453.04" r="1.72"/>
<circle cx="410.05" cy="454.70" r="1.72"/>
<circle cx="410.97" cy="455.95" r="1.72"/>
<circle cx="412.31" cy="458.05" r="1.72"/>
<circle cx="412.05" cy="457.66" r="1.72"/>
<circle cx="414.11" cy="458.91" r="1.72"/>
<circle cx="415.35" cy="459.56" r="1.72"/>
<circle cx="417.55" cy="460.80" r="1.72"/>
<circle cx="419.20" cy="461.49" r="1.72"/>
<circle cx="420.49" cy="462.30" r="1.72"/>
<circle cx="420.74" cy="462.46" r="1.72"/>
<circle cx="422.30" cy="461.61" r="1.72"/>
<circle cx="425.33" cy="459.47" r="1.72"/>
<circle cx="427.06" cy="458.40" r="1.72"/>
<circle cx="427.43" cy="458.60" r="1.72"/>
<circle cx="429.31" cy="457.84" r="1.72"/>
<circle cx="430.55" cy="456.81" r="1.72"/>
<circle cx="432.62" cy="456.15" r="1.72"/>
<circle cx="434.09" cy="455.95" r="1.72"/>
<circle cx="434.45" cy="455.62" r="1.72"/>
<circle cx="433.94" cy="454.12" r="1.72"/>
<circle cx="435.28" cy="452.68" r="1.72"/>
<circle cx="436.19" cy="450.74" r="1.72"/>
<circle cx="437.63" cy="448.74" r="1.72"/>
<circle cx="438.20" cy="446.27" r="1.72"/>
<circle cx="437.15" cy="445.63" r="1.72"/>
<circle cx="439.42" cy="442.89" r="1.72"/>
<circle cx="440.95" cy="441.42" r="1.72"/>
<circle cx="441.87" cy="440.03" r="1.72"/>
<circle cx="443.73" cy="437.85" r="1.72"/>
</g>
<rect x="0" y="0" width="520" height="1" fill="#111"/>
<rect x="0" y="0" width="1" height="521" fill="#111"/>
<rect x="518" y="0" width="2" height="521" fill="#444"/>
<rect x="0" y="519" width="520" height="2" fill="#444"/>
</svg>
</body></html>
